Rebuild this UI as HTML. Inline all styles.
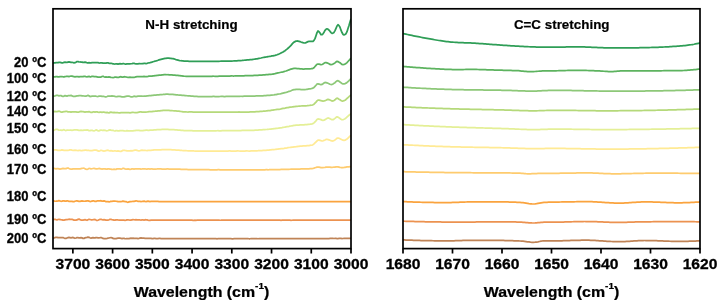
<!DOCTYPE html>
<html lang="en"><head><meta charset="utf-8"><title>FTIR spectra</title>
<style>
html,body{margin:0;padding:0;background:#fff;}
body{width:723px;height:307px;overflow:hidden;}
svg{display:block;}
text{font-family:"Liberation Sans",sans-serif;font-weight:bold;fill:#000;}
.tk{font-size:14.65px;text-anchor:middle;stroke:#000;stroke-width:0.3px;}
.yl{font-size:14.7px;text-anchor:end;stroke:#111;stroke-width:0.35px;}
.ti{font-size:13.4px;text-anchor:middle;stroke:#000;stroke-width:0.2px;}
.xl{font-size:15.2px;text-anchor:middle;stroke:#000;stroke-width:0.25px;}
.ax{fill:none;stroke:#000;stroke-width:1.7;}
.c{fill:none;stroke-width:1.75;stroke-linejoin:round;stroke-linecap:butt;}
</style></head><body>
<svg width="723" height="307" viewBox="0 0 723 307">
<rect x="0" y="0" width="723" height="307" fill="#fff"/>

<clipPath id="cl"><rect x="53.0" y="8.8" width="298.0" height="239.79999999999998"/></clipPath>
<clipPath id="cr"><rect x="403.0" y="8.8" width="297.0" height="239.79999999999998"/></clipPath>
<g clip-path="url(#cl)">
<path class="c" stroke="#bf8356" d="M53.0 238.18 L54.0 238.04 L55.0 237.57 L56.0 237.26 L57.0 237.40 L58.0 237.62 L59.0 237.62 L60.0 237.60 L61.0 237.63 L62.0 237.51 L63.0 237.53 L64.0 237.96 L65.0 238.33 L66.0 238.34 L67.0 238.00 L68.0 237.68 L69.0 237.48 L70.0 237.54 L71.0 237.78 L72.0 237.58 L73.0 237.44 L74.0 237.88 L75.0 238.26 L76.0 238.02 L77.0 237.61 L78.0 237.70 L79.0 237.98 L80.0 237.88 L81.0 237.72 L82.0 237.90 L83.0 238.35 L84.0 238.39 L85.0 237.85 L86.0 237.59 L87.0 237.44 L88.0 237.22 L89.0 237.38 L90.0 237.80 L91.0 238.16 L92.0 237.95 L93.0 237.72 L94.0 237.97 L95.0 237.84 L96.0 237.54 L97.0 237.65 L98.0 237.77 L99.0 237.82 L100.0 237.73 L101.0 237.54 L102.0 237.90 L103.0 238.44 L104.0 238.59 L105.0 238.64 L106.0 238.72 L107.0 238.51 L108.0 238.17 L109.0 238.01 L110.0 237.76 L111.0 237.58 L112.0 237.78 L113.0 238.38 L114.0 238.63 L115.0 238.54 L116.0 238.54 L117.0 238.29 L118.0 238.20 L119.0 238.17 L120.0 238.06 L121.0 238.46 L122.0 238.65 L123.0 238.36 L124.0 238.35 L125.0 238.56 L126.0 238.74 L127.0 238.68 L128.0 238.58 L129.0 238.55 L130.0 238.29 L131.0 238.20 L132.0 238.33 L133.0 238.23 L134.0 238.31 L135.0 238.40 L136.0 238.27 L137.0 238.41 L138.0 238.57 L139.0 238.39 L140.0 238.03 L141.0 237.83 L142.0 238.02 L143.0 238.22 L144.0 238.24 L145.0 238.29 L146.0 238.37 L147.0 238.38 L148.0 238.42 L149.0 238.45 L150.0 238.38 L151.0 238.48 L152.0 238.64 L153.0 238.55 L154.0 238.41 L155.0 238.44 L156.0 238.54 L157.0 238.56 L158.0 238.51 L159.0 238.46 L160.0 238.48 L161.0 238.52 L162.0 238.52 L163.0 238.50 L164.0 238.51 L165.0 238.53 L166.0 238.54 L167.0 238.54 L168.0 238.57 L169.0 238.59 L170.0 238.58 L171.0 238.57 L172.0 238.59 L173.0 238.59 L174.0 238.58 L175.0 238.56 L176.0 238.55 L177.0 238.60 L178.0 238.63 L179.0 238.63 L180.0 238.63 L181.0 238.61 L182.0 238.61 L183.0 238.66 L184.0 238.72 L185.0 238.70 L186.0 238.67 L187.0 238.67 L188.0 238.66 L189.0 238.67 L190.0 238.69 L191.0 238.66 L192.0 238.62 L193.0 238.64 L194.0 238.68 L195.0 238.72 L196.0 238.72 L197.0 238.71 L198.0 238.72 L199.0 238.72 L200.0 238.71 L201.0 238.73 L202.0 238.71 L203.0 238.70 L204.0 238.70 L205.0 238.68 L206.0 238.68 L207.0 238.71 L208.0 238.70 L209.0 238.68 L210.0 238.69 L211.0 238.71 L212.0 238.72 L213.0 238.69 L214.0 238.69 L215.0 238.67 L216.0 238.70 L217.0 238.76 L218.0 238.71 L219.0 238.68 L220.0 238.70 L221.0 238.69 L222.0 238.71 L223.0 238.72 L224.0 238.69 L225.0 238.67 L226.0 238.67 L227.0 238.66 L228.0 238.63 L229.0 238.64 L230.0 238.69 L231.0 238.73 L232.0 238.76 L233.0 238.77 L234.0 238.73 L235.0 238.69 L236.0 238.66 L237.0 238.62 L238.0 238.62 L239.0 238.66 L240.0 238.70 L241.0 238.71 L242.0 238.68 L243.0 238.65 L244.0 238.64 L245.0 238.67 L246.0 238.70 L247.0 238.70 L248.0 238.70 L249.0 238.75 L250.0 238.75 L251.0 238.70 L252.0 238.67 L253.0 238.67 L254.0 238.69 L255.0 238.69 L256.0 238.71 L257.0 238.73 L258.0 238.75 L259.0 238.73 L260.0 238.70 L261.0 238.68 L262.0 238.67 L263.0 238.68 L264.0 238.72 L265.0 238.72 L266.0 238.72 L267.0 238.70 L268.0 238.69 L269.0 238.71 L270.0 238.69 L271.0 238.68 L272.0 238.66 L273.0 238.65 L274.0 238.64 L275.0 238.67 L276.0 238.70 L277.0 238.70 L278.0 238.67 L279.0 238.60 L280.0 238.63 L281.0 238.67 L282.0 238.67 L283.0 238.69 L284.0 238.68 L285.0 238.65 L286.0 238.69 L287.0 238.73 L288.0 238.69 L289.0 238.64 L290.0 238.63 L291.0 238.61 L292.0 238.59 L293.0 238.64 L294.0 238.71 L295.0 238.70 L296.0 238.67 L297.0 238.69 L298.0 238.70 L299.0 238.69 L300.0 238.70 L301.0 238.67 L302.0 238.65 L303.0 238.62 L304.0 238.55 L305.0 238.55 L306.0 238.58 L307.0 238.57 L308.0 238.56 L309.0 238.56 L310.0 238.60 L311.0 238.66 L312.0 238.63 L313.0 238.60 L314.0 238.60 L315.0 238.59 L316.0 238.59 L317.0 238.61 L318.0 238.59 L319.0 238.55 L320.0 238.55 L321.0 238.54 L322.0 238.53 L323.0 238.54 L324.0 238.55 L325.0 238.57 L326.0 238.57 L327.0 238.55 L328.0 238.54 L329.0 238.51 L330.0 238.47 L331.0 238.47 L332.0 238.49 L333.0 238.49 L334.0 238.50 L335.0 238.49 L336.0 238.49 L337.0 238.55 L338.0 238.56 L339.0 238.49 L340.0 238.46 L341.0 238.48 L342.0 238.52 L343.0 238.50 L344.0 238.42 L345.0 238.38 L346.0 238.37 L347.0 238.35 L348.0 238.36 L349.0 238.38 L350.0 238.40 L351.0 238.43"/>
<path class="c" stroke="#ec9250" d="M53.0 219.79 L54.0 219.44 L55.0 219.26 L56.0 219.61 L57.0 219.88 L58.0 219.51 L59.0 219.26 L60.0 219.59 L61.0 219.74 L62.0 219.82 L63.0 220.08 L64.0 220.06 L65.0 219.79 L66.0 219.60 L67.0 219.63 L68.0 219.45 L69.0 219.24 L70.0 219.36 L71.0 219.38 L72.0 219.39 L73.0 219.68 L74.0 220.14 L75.0 220.22 L76.0 220.16 L77.0 219.97 L78.0 219.33 L79.0 219.07 L80.0 219.58 L81.0 220.01 L82.0 220.05 L83.0 220.15 L84.0 219.98 L85.0 219.63 L86.0 219.97 L87.0 220.29 L88.0 219.71 L89.0 219.27 L90.0 219.51 L91.0 219.78 L92.0 219.81 L93.0 219.72 L94.0 219.53 L95.0 219.46 L96.0 220.01 L97.0 220.53 L98.0 220.21 L99.0 219.73 L100.0 219.44 L101.0 219.26 L102.0 219.61 L103.0 219.81 L104.0 219.71 L105.0 219.90 L106.0 220.11 L107.0 220.18 L108.0 220.10 L109.0 219.77 L110.0 219.36 L111.0 219.37 L112.0 219.73 L113.0 219.96 L114.0 220.17 L115.0 220.21 L116.0 219.90 L117.0 219.83 L118.0 219.97 L119.0 220.01 L120.0 220.00 L121.0 220.07 L122.0 220.22 L123.0 220.22 L124.0 220.22 L125.0 220.30 L126.0 220.18 L127.0 219.92 L128.0 219.92 L129.0 220.00 L130.0 220.15 L131.0 220.17 L132.0 219.79 L133.0 219.57 L134.0 219.75 L135.0 219.82 L136.0 219.74 L137.0 219.80 L138.0 219.76 L139.0 219.75 L140.0 219.94 L141.0 220.04 L142.0 219.97 L143.0 219.96 L144.0 220.02 L145.0 219.88 L146.0 219.74 L147.0 219.90 L148.0 220.13 L149.0 220.30 L150.0 220.36 L151.0 220.24 L152.0 220.10 L153.0 220.04 L154.0 220.11 L155.0 220.20 L156.0 220.18 L157.0 220.11 L158.0 220.13 L159.0 220.19 L160.0 220.20 L161.0 220.16 L162.0 220.11 L163.0 220.11 L164.0 220.11 L165.0 220.13 L166.0 220.18 L167.0 220.20 L168.0 220.21 L169.0 220.19 L170.0 220.17 L171.0 220.16 L172.0 220.16 L173.0 220.18 L174.0 220.20 L175.0 220.16 L176.0 220.11 L177.0 220.13 L178.0 220.13 L179.0 220.11 L180.0 220.15 L181.0 220.22 L182.0 220.24 L183.0 220.21 L184.0 220.23 L185.0 220.22 L186.0 220.17 L187.0 220.17 L188.0 220.19 L189.0 220.18 L190.0 220.15 L191.0 220.18 L192.0 220.24 L193.0 220.28 L194.0 220.26 L195.0 220.24 L196.0 220.26 L197.0 220.23 L198.0 220.18 L199.0 220.20 L200.0 220.21 L201.0 220.21 L202.0 220.22 L203.0 220.24 L204.0 220.22 L205.0 220.21 L206.0 220.23 L207.0 220.22 L208.0 220.21 L209.0 220.22 L210.0 220.20 L211.0 220.17 L212.0 220.15 L213.0 220.14 L214.0 220.19 L215.0 220.23 L216.0 220.20 L217.0 220.17 L218.0 220.16 L219.0 220.19 L220.0 220.25 L221.0 220.24 L222.0 220.20 L223.0 220.18 L224.0 220.16 L225.0 220.15 L226.0 220.15 L227.0 220.17 L228.0 220.20 L229.0 220.23 L230.0 220.22 L231.0 220.18 L232.0 220.16 L233.0 220.16 L234.0 220.18 L235.0 220.22 L236.0 220.24 L237.0 220.22 L238.0 220.17 L239.0 220.15 L240.0 220.22 L241.0 220.23 L242.0 220.17 L243.0 220.20 L244.0 220.22 L245.0 220.21 L246.0 220.23 L247.0 220.20 L248.0 220.18 L249.0 220.22 L250.0 220.22 L251.0 220.19 L252.0 220.18 L253.0 220.18 L254.0 220.21 L255.0 220.20 L256.0 220.19 L257.0 220.19 L258.0 220.21 L259.0 220.21 L260.0 220.19 L261.0 220.20 L262.0 220.19 L263.0 220.17 L264.0 220.16 L265.0 220.15 L266.0 220.17 L267.0 220.20 L268.0 220.22 L269.0 220.23 L270.0 220.20 L271.0 220.14 L272.0 220.11 L273.0 220.15 L274.0 220.19 L275.0 220.18 L276.0 220.18 L277.0 220.18 L278.0 220.13 L279.0 220.13 L280.0 220.20 L281.0 220.26 L282.0 220.21 L283.0 220.17 L284.0 220.20 L285.0 220.22 L286.0 220.21 L287.0 220.17 L288.0 220.15 L289.0 220.18 L290.0 220.22 L291.0 220.26 L292.0 220.25 L293.0 220.18 L294.0 220.15 L295.0 220.16 L296.0 220.17 L297.0 220.19 L298.0 220.20 L299.0 220.21 L300.0 220.21 L301.0 220.17 L302.0 220.11 L303.0 220.09 L304.0 220.10 L305.0 220.09 L306.0 220.11 L307.0 220.16 L308.0 220.17 L309.0 220.14 L310.0 220.11 L311.0 220.09 L312.0 220.14 L313.0 220.17 L314.0 220.12 L315.0 220.14 L316.0 220.18 L317.0 220.16 L318.0 220.16 L319.0 220.15 L320.0 220.14 L321.0 220.17 L322.0 220.18 L323.0 220.12 L324.0 220.11 L325.0 220.15 L326.0 220.19 L327.0 220.20 L328.0 220.17 L329.0 220.11 L330.0 220.10 L331.0 220.13 L332.0 220.13 L333.0 220.11 L334.0 220.12 L335.0 220.15 L336.0 220.15 L337.0 220.12 L338.0 220.11 L339.0 220.09 L340.0 220.09 L341.0 220.13 L342.0 220.21 L343.0 220.24 L344.0 220.18 L345.0 220.14 L346.0 220.13 L347.0 220.09 L348.0 220.09 L349.0 220.10 L350.0 220.15 L351.0 220.17"/>
<path class="c" stroke="#faa33e" d="M53.0 200.92 L54.0 200.97 L55.0 201.25 L56.0 201.20 L57.0 201.06 L58.0 200.88 L59.0 200.65 L60.0 200.97 L61.0 201.29 L62.0 201.18 L63.0 200.93 L64.0 200.84 L65.0 201.05 L66.0 201.12 L67.0 200.96 L68.0 200.97 L69.0 201.30 L70.0 201.47 L71.0 201.38 L72.0 201.45 L73.0 201.66 L74.0 201.61 L75.0 201.27 L76.0 200.99 L77.0 200.94 L78.0 201.09 L79.0 201.33 L80.0 201.33 L81.0 201.12 L82.0 200.96 L83.0 201.03 L84.0 201.25 L85.0 201.22 L86.0 201.07 L87.0 200.96 L88.0 200.89 L89.0 201.14 L90.0 201.52 L91.0 201.42 L92.0 201.05 L93.0 200.84 L94.0 200.98 L95.0 201.44 L96.0 201.48 L97.0 200.93 L98.0 200.78 L99.0 200.97 L100.0 200.83 L101.0 200.73 L102.0 201.11 L103.0 201.21 L104.0 200.96 L105.0 201.20 L106.0 201.61 L107.0 201.54 L108.0 201.53 L109.0 201.82 L110.0 201.56 L111.0 201.25 L112.0 201.27 L113.0 201.22 L114.0 201.20 L115.0 201.18 L116.0 201.25 L117.0 201.38 L118.0 201.59 L119.0 201.67 L120.0 201.51 L121.0 201.51 L122.0 201.37 L123.0 201.07 L124.0 201.27 L125.0 201.55 L126.0 201.62 L127.0 202.02 L128.0 202.28 L129.0 201.87 L130.0 201.56 L131.0 201.64 L132.0 201.50 L133.0 201.30 L134.0 201.45 L135.0 201.21 L136.0 200.85 L137.0 201.01 L138.0 201.30 L139.0 201.42 L140.0 201.48 L141.0 201.53 L142.0 201.47 L143.0 201.28 L144.0 201.19 L145.0 201.43 L146.0 201.56 L147.0 201.36 L148.0 201.17 L149.0 201.32 L150.0 201.53 L151.0 201.46 L152.0 201.37 L153.0 201.42 L154.0 201.48 L155.0 201.45 L156.0 201.39 L157.0 201.40 L158.0 201.48 L159.0 201.54 L160.0 201.53 L161.0 201.54 L162.0 201.54 L163.0 201.53 L164.0 201.53 L165.0 201.55 L166.0 201.57 L167.0 201.56 L168.0 201.53 L169.0 201.54 L170.0 201.55 L171.0 201.56 L172.0 201.57 L173.0 201.55 L174.0 201.53 L175.0 201.57 L176.0 201.59 L177.0 201.57 L178.0 201.60 L179.0 201.60 L180.0 201.55 L181.0 201.54 L182.0 201.57 L183.0 201.56 L184.0 201.56 L185.0 201.58 L186.0 201.55 L187.0 201.53 L188.0 201.54 L189.0 201.58 L190.0 201.61 L191.0 201.62 L192.0 201.61 L193.0 201.59 L194.0 201.59 L195.0 201.61 L196.0 201.65 L197.0 201.61 L198.0 201.53 L199.0 201.56 L200.0 201.61 L201.0 201.58 L202.0 201.57 L203.0 201.59 L204.0 201.59 L205.0 201.64 L206.0 201.65 L207.0 201.62 L208.0 201.61 L209.0 201.58 L210.0 201.56 L211.0 201.60 L212.0 201.60 L213.0 201.60 L214.0 201.59 L215.0 201.56 L216.0 201.54 L217.0 201.57 L218.0 201.62 L219.0 201.64 L220.0 201.61 L221.0 201.57 L222.0 201.59 L223.0 201.59 L224.0 201.55 L225.0 201.56 L226.0 201.62 L227.0 201.63 L228.0 201.63 L229.0 201.62 L230.0 201.62 L231.0 201.61 L232.0 201.59 L233.0 201.57 L234.0 201.57 L235.0 201.62 L236.0 201.66 L237.0 201.64 L238.0 201.60 L239.0 201.59 L240.0 201.59 L241.0 201.60 L242.0 201.61 L243.0 201.62 L244.0 201.61 L245.0 201.60 L246.0 201.61 L247.0 201.61 L248.0 201.58 L249.0 201.59 L250.0 201.60 L251.0 201.59 L252.0 201.55 L253.0 201.56 L254.0 201.59 L255.0 201.57 L256.0 201.56 L257.0 201.57 L258.0 201.57 L259.0 201.61 L260.0 201.63 L261.0 201.62 L262.0 201.59 L263.0 201.54 L264.0 201.55 L265.0 201.61 L266.0 201.60 L267.0 201.60 L268.0 201.63 L269.0 201.60 L270.0 201.58 L271.0 201.59 L272.0 201.58 L273.0 201.56 L274.0 201.59 L275.0 201.64 L276.0 201.60 L277.0 201.50 L278.0 201.51 L279.0 201.58 L280.0 201.60 L281.0 201.60 L282.0 201.60 L283.0 201.58 L284.0 201.61 L285.0 201.63 L286.0 201.62 L287.0 201.63 L288.0 201.62 L289.0 201.60 L290.0 201.59 L291.0 201.62 L292.0 201.60 L293.0 201.59 L294.0 201.64 L295.0 201.68 L296.0 201.66 L297.0 201.63 L298.0 201.61 L299.0 201.58 L300.0 201.57 L301.0 201.59 L302.0 201.60 L303.0 201.61 L304.0 201.62 L305.0 201.57 L306.0 201.54 L307.0 201.59 L308.0 201.62 L309.0 201.61 L310.0 201.57 L311.0 201.56 L312.0 201.55 L313.0 201.57 L314.0 201.62 L315.0 201.65 L316.0 201.63 L317.0 201.63 L318.0 201.65 L319.0 201.58 L320.0 201.52 L321.0 201.56 L322.0 201.61 L323.0 201.61 L324.0 201.59 L325.0 201.63 L326.0 201.65 L327.0 201.59 L328.0 201.54 L329.0 201.54 L330.0 201.59 L331.0 201.64 L332.0 201.65 L333.0 201.66 L334.0 201.65 L335.0 201.64 L336.0 201.62 L337.0 201.57 L338.0 201.57 L339.0 201.58 L340.0 201.59 L341.0 201.62 L342.0 201.65 L343.0 201.62 L344.0 201.57 L345.0 201.59 L346.0 201.62 L347.0 201.60 L348.0 201.59 L349.0 201.59 L350.0 201.61 L351.0 201.63"/>
<path class="c" stroke="#fecb6e" d="M53.0 168.20 L54.0 168.28 L55.0 168.72 L56.0 168.83 L57.0 168.72 L58.0 168.71 L59.0 168.87 L60.0 169.10 L61.0 168.99 L62.0 168.61 L63.0 168.49 L64.0 168.64 L65.0 168.74 L66.0 168.65 L67.0 168.20 L68.0 168.00 L69.0 168.52 L70.0 168.92 L71.0 169.06 L72.0 169.19 L73.0 168.98 L74.0 168.76 L75.0 168.82 L76.0 168.89 L77.0 168.97 L78.0 168.92 L79.0 168.83 L80.0 168.78 L81.0 168.53 L82.0 168.33 L83.0 168.25 L84.0 168.21 L85.0 168.67 L86.0 169.25 L87.0 169.37 L88.0 168.97 L89.0 168.41 L90.0 168.50 L91.0 168.85 L92.0 168.75 L93.0 168.52 L94.0 168.31 L95.0 168.56 L96.0 168.97 L97.0 168.93 L98.0 168.72 L99.0 168.48 L100.0 168.60 L101.0 168.99 L102.0 169.02 L103.0 168.86 L104.0 168.75 L105.0 168.76 L106.0 169.13 L107.0 169.19 L108.0 168.84 L109.0 168.93 L110.0 169.07 L111.0 169.11 L112.0 169.50 L113.0 169.49 L114.0 169.16 L115.0 169.33 L116.0 169.31 L117.0 168.92 L118.0 168.94 L119.0 168.98 L120.0 168.99 L121.0 169.06 L122.0 168.79 L123.0 168.42 L124.0 168.48 L125.0 168.90 L126.0 169.14 L127.0 169.05 L128.0 168.96 L129.0 169.12 L130.0 169.32 L131.0 169.16 L132.0 168.88 L133.0 168.99 L134.0 169.14 L135.0 168.97 L136.0 168.88 L137.0 168.87 L138.0 168.90 L139.0 168.89 L140.0 168.85 L141.0 169.02 L142.0 168.95 L143.0 168.82 L144.0 168.85 L145.0 168.84 L146.0 169.01 L147.0 169.08 L148.0 168.96 L149.0 168.98 L150.0 169.04 L151.0 168.98 L152.0 168.99 L153.0 169.08 L154.0 169.10 L155.0 169.02 L156.0 169.02 L157.0 168.99 L158.0 168.91 L159.0 168.91 L160.0 168.91 L161.0 168.95 L162.0 169.03 L163.0 169.06 L164.0 169.04 L165.0 169.02 L166.0 169.01 L167.0 168.99 L168.0 168.98 L169.0 169.01 L170.0 169.05 L171.0 169.08 L172.0 169.07 L173.0 169.07 L174.0 169.09 L175.0 169.09 L176.0 169.11 L177.0 169.16 L178.0 169.18 L179.0 169.20 L180.0 169.24 L181.0 169.30 L182.0 169.32 L183.0 169.33 L184.0 169.36 L185.0 169.40 L186.0 169.44 L187.0 169.48 L188.0 169.53 L189.0 169.57 L190.0 169.54 L191.0 169.54 L192.0 169.63 L193.0 169.67 L194.0 169.63 L195.0 169.59 L196.0 169.60 L197.0 169.65 L198.0 169.69 L199.0 169.69 L200.0 169.66 L201.0 169.68 L202.0 169.73 L203.0 169.71 L204.0 169.70 L205.0 169.72 L206.0 169.72 L207.0 169.73 L208.0 169.74 L209.0 169.74 L210.0 169.76 L211.0 169.79 L212.0 169.78 L213.0 169.77 L214.0 169.78 L215.0 169.79 L216.0 169.79 L217.0 169.77 L218.0 169.72 L219.0 169.72 L220.0 169.78 L221.0 169.84 L222.0 169.83 L223.0 169.79 L224.0 169.82 L225.0 169.87 L226.0 169.87 L227.0 169.84 L228.0 169.80 L229.0 169.80 L230.0 169.89 L231.0 169.93 L232.0 169.89 L233.0 169.87 L234.0 169.87 L235.0 169.89 L236.0 169.88 L237.0 169.84 L238.0 169.82 L239.0 169.85 L240.0 169.91 L241.0 169.92 L242.0 169.89 L243.0 169.90 L244.0 169.89 L245.0 169.87 L246.0 169.84 L247.0 169.82 L248.0 169.86 L249.0 169.91 L250.0 169.88 L251.0 169.88 L252.0 169.89 L253.0 169.85 L254.0 169.86 L255.0 169.87 L256.0 169.88 L257.0 169.89 L258.0 169.86 L259.0 169.85 L260.0 169.86 L261.0 169.84 L262.0 169.79 L263.0 169.76 L264.0 169.76 L265.0 169.76 L266.0 169.73 L267.0 169.74 L268.0 169.78 L269.0 169.74 L270.0 169.67 L271.0 169.63 L272.0 169.63 L273.0 169.65 L274.0 169.63 L275.0 169.63 L276.0 169.63 L277.0 169.56 L278.0 169.50 L279.0 169.50 L280.0 169.50 L281.0 169.49 L282.0 169.47 L283.0 169.47 L284.0 169.44 L285.0 169.36 L286.0 169.31 L287.0 169.33 L288.0 169.30 L289.0 169.27 L290.0 169.25 L291.0 169.21 L292.0 169.19 L293.0 169.19 L294.0 169.17 L295.0 169.14 L296.0 169.09 L297.0 169.05 L298.0 169.02 L299.0 169.02 L300.0 169.01 L301.0 168.97 L302.0 168.92 L303.0 168.92 L304.0 168.94 L305.0 168.93 L306.0 168.87 L307.0 168.80 L308.0 168.78 L309.0 168.77 L310.0 168.67 L311.0 168.58 L312.0 168.51 L313.0 168.43 L314.0 168.17 L315.0 167.78 L316.0 167.47 L317.0 167.18 L318.0 167.08 L319.0 167.18 L320.0 167.35 L321.0 167.53 L322.0 167.59 L323.0 167.56 L324.0 167.50 L325.0 167.39 L326.0 167.23 L327.0 167.08 L328.0 167.00 L329.0 167.07 L330.0 167.23 L331.0 167.38 L332.0 167.37 L333.0 167.25 L334.0 167.15 L335.0 167.04 L336.0 166.88 L337.0 166.78 L338.0 166.86 L339.0 167.10 L340.0 167.34 L341.0 167.51 L342.0 167.58 L343.0 167.53 L344.0 167.43 L345.0 167.30 L346.0 167.13 L347.0 166.94 L348.0 166.84 L349.0 166.81 L350.0 166.74 L351.0 166.65"/>
<path class="c" stroke="#ffea94" d="M53.0 149.88 L54.0 149.86 L55.0 149.88 L56.0 149.93 L57.0 150.15 L58.0 150.42 L59.0 150.49 L60.0 150.41 L61.0 150.21 L62.0 149.97 L63.0 150.06 L64.0 150.31 L65.0 150.41 L66.0 150.45 L67.0 150.39 L68.0 150.33 L69.0 150.17 L70.0 149.92 L71.0 149.97 L72.0 150.22 L73.0 150.34 L74.0 150.27 L75.0 150.23 L76.0 150.30 L77.0 150.48 L78.0 150.54 L79.0 150.40 L80.0 150.38 L81.0 150.52 L82.0 150.55 L83.0 150.41 L84.0 150.32 L85.0 150.20 L86.0 150.16 L87.0 150.41 L88.0 150.46 L89.0 150.49 L90.0 150.65 L91.0 150.57 L92.0 150.61 L93.0 150.46 L94.0 150.13 L95.0 150.11 L96.0 150.13 L97.0 150.40 L98.0 150.91 L99.0 151.17 L100.0 150.79 L101.0 150.26 L102.0 150.50 L103.0 150.94 L104.0 151.05 L105.0 150.98 L106.0 150.61 L107.0 150.27 L108.0 150.23 L109.0 150.58 L110.0 150.84 L111.0 150.74 L112.0 150.87 L113.0 151.04 L114.0 150.96 L115.0 150.80 L116.0 151.01 L117.0 151.15 L118.0 150.85 L119.0 151.02 L120.0 151.33 L121.0 151.32 L122.0 150.93 L123.0 150.29 L124.0 150.28 L125.0 150.48 L126.0 150.61 L127.0 150.84 L128.0 150.86 L129.0 150.82 L130.0 150.78 L131.0 150.71 L132.0 150.84 L133.0 150.69 L134.0 150.28 L135.0 150.14 L136.0 150.20 L137.0 150.42 L138.0 150.75 L139.0 150.95 L140.0 150.76 L141.0 150.31 L142.0 150.15 L143.0 150.26 L144.0 150.30 L145.0 150.33 L146.0 150.50 L147.0 150.56 L148.0 150.35 L149.0 150.37 L150.0 150.46 L151.0 150.26 L152.0 150.18 L153.0 150.16 L154.0 149.94 L155.0 149.83 L156.0 149.88 L157.0 149.94 L158.0 149.93 L159.0 149.89 L160.0 149.86 L161.0 149.77 L162.0 149.69 L163.0 149.67 L164.0 149.65 L165.0 149.61 L166.0 149.61 L167.0 149.66 L168.0 149.70 L169.0 149.69 L170.0 149.67 L171.0 149.71 L172.0 149.79 L173.0 149.86 L174.0 149.92 L175.0 149.99 L176.0 150.05 L177.0 150.10 L178.0 150.17 L179.0 150.24 L180.0 150.30 L181.0 150.39 L182.0 150.49 L183.0 150.54 L184.0 150.58 L185.0 150.65 L186.0 150.71 L187.0 150.75 L188.0 150.79 L189.0 150.85 L190.0 150.87 L191.0 150.85 L192.0 150.86 L193.0 150.91 L194.0 150.98 L195.0 151.01 L196.0 151.03 L197.0 151.08 L198.0 151.15 L199.0 151.18 L200.0 151.16 L201.0 151.16 L202.0 151.16 L203.0 151.14 L204.0 151.09 L205.0 151.07 L206.0 151.11 L207.0 151.12 L208.0 151.07 L209.0 151.08 L210.0 151.11 L211.0 151.10 L212.0 151.06 L213.0 151.08 L214.0 151.14 L215.0 151.16 L216.0 151.13 L217.0 151.12 L218.0 151.11 L219.0 151.10 L220.0 151.08 L221.0 151.06 L222.0 151.07 L223.0 151.09 L224.0 151.12 L225.0 151.11 L226.0 151.09 L227.0 151.08 L228.0 151.04 L229.0 150.97 L230.0 150.98 L231.0 151.01 L232.0 151.01 L233.0 151.05 L234.0 151.06 L235.0 151.03 L236.0 151.02 L237.0 150.99 L238.0 150.99 L239.0 151.00 L240.0 151.00 L241.0 151.03 L242.0 151.04 L243.0 151.05 L244.0 151.04 L245.0 151.01 L246.0 150.99 L247.0 150.98 L248.0 151.00 L249.0 151.02 L250.0 151.03 L251.0 150.99 L252.0 150.97 L253.0 150.97 L254.0 150.94 L255.0 150.88 L256.0 150.81 L257.0 150.76 L258.0 150.73 L259.0 150.67 L260.0 150.59 L261.0 150.55 L262.0 150.51 L263.0 150.43 L264.0 150.36 L265.0 150.32 L266.0 150.27 L267.0 150.20 L268.0 150.11 L269.0 150.01 L270.0 149.93 L271.0 149.85 L272.0 149.72 L273.0 149.59 L274.0 149.52 L275.0 149.46 L276.0 149.35 L277.0 149.22 L278.0 149.08 L279.0 148.93 L280.0 148.77 L281.0 148.64 L282.0 148.58 L283.0 148.52 L284.0 148.36 L285.0 148.15 L286.0 148.01 L287.0 147.87 L288.0 147.66 L289.0 147.50 L290.0 147.41 L291.0 147.27 L292.0 147.14 L293.0 147.05 L294.0 146.92 L295.0 146.80 L296.0 146.68 L297.0 146.51 L298.0 146.38 L299.0 146.30 L300.0 146.22 L301.0 146.15 L302.0 146.06 L303.0 145.97 L304.0 145.91 L305.0 145.85 L306.0 145.78 L307.0 145.70 L308.0 145.62 L309.0 145.51 L310.0 145.38 L311.0 145.24 L312.0 145.07 L313.0 144.71 L314.0 143.83 L315.0 142.84 L316.0 141.99 L317.0 140.95 L318.0 140.16 L319.0 140.08 L320.0 140.33 L321.0 140.69 L322.0 140.99 L323.0 140.79 L324.0 140.39 L325.0 139.99 L326.0 139.42 L327.0 139.27 L328.0 139.55 L329.0 139.89 L330.0 140.24 L331.0 140.70 L332.0 141.01 L333.0 140.97 L334.0 140.53 L335.0 139.89 L336.0 139.13 L337.0 138.29 L338.0 138.00 L339.0 138.25 L340.0 138.74 L341.0 139.22 L342.0 139.69 L343.0 140.18 L344.0 140.40 L345.0 140.13 L346.0 139.61 L347.0 139.00 L348.0 138.07 L349.0 137.14 L350.0 136.21 L351.0 135.26"/>
<path class="c" stroke="#e4ef96" d="M53.0 130.40 L54.0 130.28 L55.0 129.78 L56.0 129.41 L57.0 129.35 L58.0 129.67 L59.0 130.25 L60.0 130.23 L61.0 130.07 L62.0 130.33 L63.0 129.96 L64.0 129.64 L65.0 130.24 L66.0 130.54 L67.0 130.16 L68.0 130.05 L69.0 130.25 L70.0 130.16 L71.0 130.13 L72.0 130.30 L73.0 130.23 L74.0 129.97 L75.0 129.96 L76.0 129.97 L77.0 129.79 L78.0 130.05 L79.0 130.38 L80.0 130.33 L81.0 130.23 L82.0 130.34 L83.0 130.34 L84.0 130.10 L85.0 130.19 L86.0 130.22 L87.0 129.91 L88.0 130.10 L89.0 130.69 L90.0 130.66 L91.0 130.35 L92.0 130.46 L93.0 130.69 L94.0 130.87 L95.0 130.51 L96.0 129.88 L97.0 130.18 L98.0 130.87 L99.0 130.88 L100.0 130.30 L101.0 130.07 L102.0 130.26 L103.0 130.31 L104.0 130.23 L105.0 130.27 L106.0 130.59 L107.0 130.77 L108.0 130.55 L109.0 130.10 L110.0 129.84 L111.0 130.09 L112.0 130.31 L113.0 130.28 L114.0 130.74 L115.0 131.03 L116.0 130.65 L117.0 130.62 L118.0 130.96 L119.0 130.91 L120.0 130.60 L121.0 130.57 L122.0 130.65 L123.0 130.70 L124.0 130.84 L125.0 131.00 L126.0 130.85 L127.0 130.60 L128.0 130.87 L129.0 130.99 L130.0 130.80 L131.0 130.86 L132.0 130.95 L133.0 130.80 L134.0 130.67 L135.0 130.61 L136.0 130.41 L137.0 130.25 L138.0 130.27 L139.0 130.39 L140.0 130.57 L141.0 130.66 L142.0 130.67 L143.0 130.66 L144.0 130.47 L145.0 130.27 L146.0 130.19 L147.0 130.18 L148.0 130.30 L149.0 130.31 L150.0 130.17 L151.0 130.14 L152.0 130.14 L153.0 130.06 L154.0 129.97 L155.0 129.89 L156.0 129.82 L157.0 129.73 L158.0 129.64 L159.0 129.65 L160.0 129.61 L161.0 129.53 L162.0 129.49 L163.0 129.46 L164.0 129.44 L165.0 129.43 L166.0 129.43 L167.0 129.41 L168.0 129.43 L169.0 129.52 L170.0 129.56 L171.0 129.57 L172.0 129.64 L173.0 129.70 L174.0 129.72 L175.0 129.78 L176.0 129.88 L177.0 129.96 L178.0 130.07 L179.0 130.19 L180.0 130.23 L181.0 130.29 L182.0 130.37 L183.0 130.41 L184.0 130.51 L185.0 130.63 L186.0 130.63 L187.0 130.61 L188.0 130.62 L189.0 130.66 L190.0 130.66 L191.0 130.63 L192.0 130.68 L193.0 130.77 L194.0 130.80 L195.0 130.78 L196.0 130.77 L197.0 130.78 L198.0 130.78 L199.0 130.77 L200.0 130.83 L201.0 130.86 L202.0 130.83 L203.0 130.82 L204.0 130.80 L205.0 130.75 L206.0 130.75 L207.0 130.77 L208.0 130.78 L209.0 130.78 L210.0 130.75 L211.0 130.76 L212.0 130.79 L213.0 130.78 L214.0 130.75 L215.0 130.78 L216.0 130.81 L217.0 130.75 L218.0 130.71 L219.0 130.78 L220.0 130.83 L221.0 130.78 L222.0 130.68 L223.0 130.66 L224.0 130.72 L225.0 130.72 L226.0 130.70 L227.0 130.71 L228.0 130.72 L229.0 130.69 L230.0 130.65 L231.0 130.63 L232.0 130.61 L233.0 130.61 L234.0 130.59 L235.0 130.53 L236.0 130.51 L237.0 130.51 L238.0 130.51 L239.0 130.56 L240.0 130.59 L241.0 130.54 L242.0 130.46 L243.0 130.44 L244.0 130.48 L245.0 130.48 L246.0 130.44 L247.0 130.38 L248.0 130.39 L249.0 130.44 L250.0 130.41 L251.0 130.35 L252.0 130.34 L253.0 130.34 L254.0 130.29 L255.0 130.23 L256.0 130.18 L257.0 130.15 L258.0 130.09 L259.0 129.99 L260.0 129.93 L261.0 129.87 L262.0 129.78 L263.0 129.72 L264.0 129.65 L265.0 129.56 L266.0 129.50 L267.0 129.44 L268.0 129.34 L269.0 129.25 L270.0 129.17 L271.0 129.07 L272.0 128.95 L273.0 128.83 L274.0 128.72 L275.0 128.61 L276.0 128.44 L277.0 128.30 L278.0 128.20 L279.0 128.05 L280.0 127.91 L281.0 127.79 L282.0 127.64 L283.0 127.45 L284.0 127.25 L285.0 127.08 L286.0 126.90 L287.0 126.71 L288.0 126.55 L289.0 126.40 L290.0 126.20 L291.0 126.00 L292.0 125.82 L293.0 125.64 L294.0 125.46 L295.0 125.32 L296.0 125.23 L297.0 125.18 L298.0 125.12 L299.0 125.05 L300.0 124.99 L301.0 124.96 L302.0 124.99 L303.0 124.96 L304.0 124.84 L305.0 124.74 L306.0 124.67 L307.0 124.59 L308.0 124.45 L309.0 124.33 L310.0 124.23 L311.0 124.07 L312.0 123.86 L313.0 123.60 L314.0 122.85 L315.0 121.84 L316.0 120.81 L317.0 119.53 L318.0 118.89 L319.0 119.03 L320.0 119.31 L321.0 119.62 L322.0 120.09 L323.0 120.34 L324.0 120.13 L325.0 119.64 L326.0 119.08 L327.0 118.33 L328.0 117.96 L329.0 118.23 L330.0 118.67 L331.0 119.20 L332.0 119.73 L333.0 119.66 L334.0 119.11 L335.0 118.40 L336.0 117.45 L337.0 116.82 L338.0 117.14 L339.0 117.83 L340.0 118.48 L341.0 119.31 L342.0 119.76 L343.0 119.60 L344.0 119.24 L345.0 118.77 L346.0 117.99 L347.0 117.00 L348.0 116.10 L349.0 115.28 L350.0 114.46 L351.0 113.60"/>
<path class="c" stroke="#b5d97a" d="M53.0 111.66 L54.0 111.57 L55.0 111.47 L56.0 111.55 L57.0 111.53 L58.0 111.29 L59.0 111.16 L60.0 111.51 L61.0 112.07 L62.0 112.14 L63.0 111.85 L64.0 111.71 L65.0 111.57 L66.0 111.27 L67.0 111.45 L68.0 111.90 L69.0 111.83 L70.0 111.97 L71.0 112.21 L72.0 111.94 L73.0 111.83 L74.0 111.90 L75.0 111.88 L76.0 111.90 L77.0 112.02 L78.0 112.23 L79.0 112.07 L80.0 111.58 L81.0 111.44 L82.0 111.60 L83.0 111.69 L84.0 111.87 L85.0 112.07 L86.0 111.92 L87.0 111.87 L88.0 111.80 L89.0 111.66 L90.0 112.02 L91.0 112.45 L92.0 112.39 L93.0 111.99 L94.0 111.92 L95.0 112.09 L96.0 111.91 L97.0 111.88 L98.0 112.18 L99.0 112.27 L100.0 112.12 L101.0 112.11 L102.0 112.28 L103.0 112.18 L104.0 112.13 L105.0 112.49 L106.0 112.52 L107.0 112.32 L108.0 112.62 L109.0 112.86 L110.0 112.42 L111.0 112.11 L112.0 112.46 L113.0 112.58 L114.0 112.47 L115.0 112.66 L116.0 112.55 L117.0 112.51 L118.0 112.71 L119.0 112.78 L120.0 112.78 L121.0 112.66 L122.0 112.57 L123.0 112.57 L124.0 112.62 L125.0 112.72 L126.0 112.65 L127.0 112.60 L128.0 112.67 L129.0 112.71 L130.0 112.80 L131.0 112.72 L132.0 112.44 L133.0 112.31 L134.0 112.50 L135.0 112.68 L136.0 112.62 L137.0 112.53 L138.0 112.36 L139.0 112.18 L140.0 111.98 L141.0 111.91 L142.0 112.09 L143.0 112.16 L144.0 112.13 L145.0 112.08 L146.0 112.03 L147.0 112.00 L148.0 111.85 L149.0 111.74 L150.0 111.65 L151.0 111.64 L152.0 111.57 L153.0 111.37 L154.0 111.28 L155.0 111.21 L156.0 111.11 L157.0 111.02 L158.0 110.95 L159.0 110.86 L160.0 110.77 L161.0 110.69 L162.0 110.60 L163.0 110.49 L164.0 110.42 L165.0 110.41 L166.0 110.42 L167.0 110.44 L168.0 110.43 L169.0 110.46 L170.0 110.55 L171.0 110.58 L172.0 110.64 L173.0 110.75 L174.0 110.82 L175.0 110.90 L176.0 110.97 L177.0 111.07 L178.0 111.16 L179.0 111.24 L180.0 111.37 L181.0 111.50 L182.0 111.63 L183.0 111.76 L184.0 111.85 L185.0 111.88 L186.0 111.92 L187.0 112.00 L188.0 112.01 L189.0 111.98 L190.0 111.94 L191.0 111.94 L192.0 111.99 L193.0 112.04 L194.0 112.11 L195.0 112.14 L196.0 112.08 L197.0 112.07 L198.0 112.11 L199.0 112.13 L200.0 112.13 L201.0 112.09 L202.0 112.10 L203.0 112.15 L204.0 112.12 L205.0 112.07 L206.0 112.07 L207.0 112.07 L208.0 112.07 L209.0 112.10 L210.0 112.11 L211.0 112.08 L212.0 112.10 L213.0 112.14 L214.0 112.11 L215.0 112.05 L216.0 112.01 L217.0 112.05 L218.0 112.12 L219.0 112.13 L220.0 112.06 L221.0 112.02 L222.0 112.07 L223.0 112.11 L224.0 112.11 L225.0 112.09 L226.0 112.06 L227.0 112.03 L228.0 112.03 L229.0 112.06 L230.0 112.08 L231.0 112.12 L232.0 112.12 L233.0 112.10 L234.0 112.11 L235.0 112.09 L236.0 112.08 L237.0 112.08 L238.0 112.01 L239.0 111.99 L240.0 112.03 L241.0 112.07 L242.0 112.11 L243.0 112.09 L244.0 112.05 L245.0 112.04 L246.0 112.05 L247.0 112.06 L248.0 112.04 L249.0 112.02 L250.0 111.99 L251.0 111.97 L252.0 111.92 L253.0 111.87 L254.0 111.82 L255.0 111.77 L256.0 111.71 L257.0 111.64 L258.0 111.60 L259.0 111.55 L260.0 111.46 L261.0 111.37 L262.0 111.31 L263.0 111.24 L264.0 111.14 L265.0 111.05 L266.0 110.96 L267.0 110.83 L268.0 110.70 L269.0 110.60 L270.0 110.52 L271.0 110.37 L272.0 110.23 L273.0 110.12 L274.0 109.94 L275.0 109.74 L276.0 109.58 L277.0 109.49 L278.0 109.41 L279.0 109.26 L280.0 109.10 L281.0 108.91 L282.0 108.66 L283.0 108.43 L284.0 108.27 L285.0 108.10 L286.0 107.89 L287.0 107.71 L288.0 107.53 L289.0 107.33 L290.0 107.15 L291.0 107.04 L292.0 106.93 L293.0 106.77 L294.0 106.63 L295.0 106.53 L296.0 106.45 L297.0 106.36 L298.0 106.25 L299.0 106.14 L300.0 106.07 L301.0 106.00 L302.0 105.92 L303.0 105.85 L304.0 105.82 L305.0 105.80 L306.0 105.77 L307.0 105.71 L308.0 105.62 L309.0 105.50 L310.0 105.36 L311.0 105.24 L312.0 105.06 L313.0 104.78 L314.0 104.19 L315.0 103.12 L316.0 102.07 L317.0 100.92 L318.0 100.10 L319.0 100.09 L320.0 100.32 L321.0 100.62 L322.0 100.97 L323.0 101.12 L324.0 100.93 L325.0 100.58 L326.0 100.20 L327.0 99.64 L328.0 99.37 L329.0 99.62 L330.0 100.01 L331.0 100.50 L332.0 101.03 L333.0 100.97 L334.0 100.45 L335.0 99.79 L336.0 98.85 L337.0 98.18 L338.0 98.49 L339.0 99.17 L340.0 99.80 L341.0 100.58 L342.0 101.08 L343.0 101.02 L344.0 100.69 L345.0 100.22 L346.0 99.47 L347.0 98.47 L348.0 97.60 L349.0 96.71 L350.0 95.76 L351.0 94.79"/>
<path class="c" stroke="#8dc878" d="M53.0 95.95 L54.0 96.08 L55.0 95.80 L56.0 95.46 L57.0 95.30 L58.0 95.46 L59.0 95.86 L60.0 95.71 L61.0 95.59 L62.0 96.15 L63.0 96.49 L64.0 96.07 L65.0 95.58 L66.0 95.84 L67.0 96.09 L68.0 95.70 L69.0 95.56 L70.0 95.51 L71.0 95.43 L72.0 95.85 L73.0 96.28 L74.0 96.40 L75.0 96.40 L76.0 96.16 L77.0 95.95 L78.0 95.84 L79.0 95.67 L80.0 95.56 L81.0 95.69 L82.0 95.84 L83.0 95.90 L84.0 96.00 L85.0 96.15 L86.0 96.15 L87.0 95.77 L88.0 95.40 L89.0 95.83 L90.0 96.53 L91.0 96.46 L92.0 96.08 L93.0 96.01 L94.0 96.03 L95.0 96.04 L96.0 96.23 L97.0 96.50 L98.0 96.51 L99.0 96.21 L100.0 96.05 L101.0 96.10 L102.0 96.32 L103.0 96.41 L104.0 96.47 L105.0 96.78 L106.0 96.82 L107.0 96.53 L108.0 96.20 L109.0 96.08 L110.0 96.20 L111.0 96.08 L112.0 95.97 L113.0 96.09 L114.0 96.13 L115.0 96.46 L116.0 96.74 L117.0 96.56 L118.0 96.42 L119.0 96.41 L120.0 96.46 L121.0 96.65 L122.0 96.84 L123.0 96.96 L124.0 96.96 L125.0 96.65 L126.0 96.34 L127.0 96.19 L128.0 96.11 L129.0 96.19 L130.0 96.48 L131.0 96.79 L132.0 96.88 L133.0 96.61 L134.0 96.21 L135.0 96.32 L136.0 96.56 L137.0 96.40 L138.0 96.23 L139.0 96.23 L140.0 96.24 L141.0 96.21 L142.0 96.24 L143.0 96.25 L144.0 96.17 L145.0 96.07 L146.0 96.02 L147.0 95.92 L148.0 95.81 L149.0 95.74 L150.0 95.67 L151.0 95.56 L152.0 95.41 L153.0 95.28 L154.0 95.15 L155.0 95.06 L156.0 95.04 L157.0 94.96 L158.0 94.86 L159.0 94.77 L160.0 94.65 L161.0 94.56 L162.0 94.52 L163.0 94.46 L164.0 94.37 L165.0 94.30 L166.0 94.24 L167.0 94.19 L168.0 94.24 L169.0 94.30 L170.0 94.34 L171.0 94.38 L172.0 94.41 L173.0 94.47 L174.0 94.60 L175.0 94.70 L176.0 94.79 L177.0 94.89 L178.0 94.99 L179.0 95.06 L180.0 95.10 L181.0 95.19 L182.0 95.32 L183.0 95.43 L184.0 95.49 L185.0 95.53 L186.0 95.64 L187.0 95.75 L188.0 95.80 L189.0 95.87 L190.0 95.95 L191.0 96.01 L192.0 96.07 L193.0 96.14 L194.0 96.27 L195.0 96.40 L196.0 96.45 L197.0 96.49 L198.0 96.56 L199.0 96.56 L200.0 96.58 L201.0 96.64 L202.0 96.63 L203.0 96.62 L204.0 96.64 L205.0 96.62 L206.0 96.59 L207.0 96.57 L208.0 96.57 L209.0 96.59 L210.0 96.60 L211.0 96.56 L212.0 96.52 L213.0 96.47 L214.0 96.48 L215.0 96.53 L216.0 96.53 L217.0 96.52 L218.0 96.53 L219.0 96.52 L220.0 96.50 L221.0 96.46 L222.0 96.44 L223.0 96.49 L224.0 96.54 L225.0 96.52 L226.0 96.48 L227.0 96.46 L228.0 96.47 L229.0 96.49 L230.0 96.47 L231.0 96.41 L232.0 96.39 L233.0 96.37 L234.0 96.35 L235.0 96.34 L236.0 96.31 L237.0 96.28 L238.0 96.30 L239.0 96.29 L240.0 96.26 L241.0 96.25 L242.0 96.26 L243.0 96.26 L244.0 96.22 L245.0 96.21 L246.0 96.20 L247.0 96.14 L248.0 96.12 L249.0 96.13 L250.0 96.10 L251.0 96.04 L252.0 96.02 L253.0 96.06 L254.0 96.07 L255.0 96.01 L256.0 95.99 L257.0 95.99 L258.0 95.94 L259.0 95.88 L260.0 95.85 L261.0 95.86 L262.0 95.84 L263.0 95.77 L264.0 95.71 L265.0 95.66 L266.0 95.58 L267.0 95.49 L268.0 95.45 L269.0 95.41 L270.0 95.31 L271.0 95.21 L272.0 95.10 L273.0 95.00 L274.0 94.89 L275.0 94.73 L276.0 94.55 L277.0 94.35 L278.0 94.17 L279.0 94.00 L280.0 93.83 L281.0 93.63 L282.0 93.38 L283.0 93.13 L284.0 92.89 L285.0 92.66 L286.0 92.46 L287.0 92.17 L288.0 91.78 L289.0 91.41 L290.0 91.09 L291.0 90.71 L292.0 90.27 L293.0 89.92 L294.0 89.72 L295.0 89.58 L296.0 89.43 L297.0 89.33 L298.0 89.32 L299.0 89.40 L300.0 89.43 L301.0 89.51 L302.0 89.62 L303.0 89.64 L304.0 89.58 L305.0 89.52 L306.0 89.42 L307.0 89.28 L308.0 89.13 L309.0 88.97 L310.0 88.80 L311.0 88.63 L312.0 88.43 L313.0 88.13 L314.0 87.45 L315.0 86.32 L316.0 85.24 L317.0 84.07 L318.0 83.78 L319.0 84.04 L320.0 84.40 L321.0 84.71 L322.0 84.41 L323.0 83.77 L324.0 83.07 L325.0 82.45 L326.0 82.55 L327.0 82.87 L328.0 83.21 L329.0 83.67 L330.0 84.22 L331.0 84.53 L332.0 84.38 L333.0 83.92 L334.0 83.34 L335.0 82.66 L336.0 81.65 L337.0 80.79 L338.0 80.65 L339.0 81.25 L340.0 82.08 L341.0 82.72 L342.0 83.41 L343.0 83.92 L344.0 83.92 L345.0 83.59 L346.0 83.17 L347.0 82.48 L348.0 81.51 L349.0 80.58 L350.0 79.59 L351.0 78.54"/>
<path class="c" stroke="#5db35f" d="M53.0 76.66 L54.0 76.99 L55.0 76.93 L56.0 76.61 L57.0 76.61 L58.0 76.88 L59.0 76.90 L60.0 76.69 L61.0 76.64 L62.0 76.60 L63.0 76.76 L64.0 76.83 L65.0 76.56 L66.0 76.47 L67.0 76.33 L68.0 76.38 L69.0 76.54 L70.0 76.26 L71.0 76.08 L72.0 76.14 L73.0 76.36 L74.0 76.74 L75.0 76.84 L76.0 76.70 L77.0 76.61 L78.0 76.70 L79.0 76.93 L80.0 76.72 L81.0 76.51 L82.0 76.66 L83.0 76.68 L84.0 76.43 L85.0 76.35 L86.0 76.75 L87.0 76.90 L88.0 76.54 L89.0 76.40 L90.0 76.76 L91.0 76.80 L92.0 76.31 L93.0 76.27 L94.0 76.53 L95.0 76.52 L96.0 76.56 L97.0 76.79 L98.0 77.03 L99.0 77.17 L100.0 77.22 L101.0 77.06 L102.0 76.49 L103.0 76.23 L104.0 76.70 L105.0 77.07 L106.0 76.97 L107.0 77.04 L108.0 77.12 L109.0 76.90 L110.0 77.06 L111.0 77.37 L112.0 77.50 L113.0 77.56 L114.0 77.41 L115.0 77.22 L116.0 77.19 L117.0 77.34 L118.0 77.44 L119.0 77.28 L120.0 76.83 L121.0 76.71 L122.0 77.09 L123.0 77.14 L124.0 76.77 L125.0 76.72 L126.0 77.01 L127.0 77.22 L128.0 77.35 L129.0 77.35 L130.0 77.22 L131.0 77.28 L132.0 77.33 L133.0 77.32 L134.0 77.36 L135.0 77.13 L136.0 76.78 L137.0 76.61 L138.0 76.68 L139.0 76.71 L140.0 76.70 L141.0 76.69 L142.0 76.62 L143.0 76.52 L144.0 76.38 L145.0 76.51 L146.0 76.68 L147.0 76.59 L148.0 76.41 L149.0 76.17 L150.0 76.08 L151.0 76.16 L152.0 76.10 L153.0 75.91 L154.0 75.77 L155.0 75.65 L156.0 75.52 L157.0 75.44 L158.0 75.34 L159.0 75.23 L160.0 75.16 L161.0 75.07 L162.0 74.95 L163.0 74.82 L164.0 74.74 L165.0 74.73 L166.0 74.74 L167.0 74.75 L168.0 74.74 L169.0 74.76 L170.0 74.81 L171.0 74.88 L172.0 74.96 L173.0 75.04 L174.0 75.13 L175.0 75.21 L176.0 75.27 L177.0 75.37 L178.0 75.49 L179.0 75.59 L180.0 75.72 L181.0 75.84 L182.0 75.97 L183.0 76.11 L184.0 76.20 L185.0 76.25 L186.0 76.32 L187.0 76.36 L188.0 76.38 L189.0 76.41 L190.0 76.39 L191.0 76.34 L192.0 76.37 L193.0 76.43 L194.0 76.46 L195.0 76.46 L196.0 76.44 L197.0 76.44 L198.0 76.49 L199.0 76.47 L200.0 76.42 L201.0 76.40 L202.0 76.37 L203.0 76.34 L204.0 76.34 L205.0 76.36 L206.0 76.35 L207.0 76.36 L208.0 76.42 L209.0 76.40 L210.0 76.33 L211.0 76.28 L212.0 76.27 L213.0 76.24 L214.0 76.25 L215.0 76.30 L216.0 76.30 L217.0 76.28 L218.0 76.27 L219.0 76.23 L220.0 76.19 L221.0 76.20 L222.0 76.22 L223.0 76.18 L224.0 76.16 L225.0 76.12 L226.0 76.06 L227.0 76.02 L228.0 76.02 L229.0 76.03 L230.0 76.01 L231.0 75.96 L232.0 75.96 L233.0 76.00 L234.0 76.00 L235.0 75.97 L236.0 75.94 L237.0 75.92 L238.0 75.90 L239.0 75.87 L240.0 75.82 L241.0 75.78 L242.0 75.77 L243.0 75.79 L244.0 75.79 L245.0 75.71 L246.0 75.66 L247.0 75.68 L248.0 75.66 L249.0 75.59 L250.0 75.54 L251.0 75.52 L252.0 75.55 L253.0 75.55 L254.0 75.46 L255.0 75.39 L256.0 75.35 L257.0 75.32 L258.0 75.28 L259.0 75.21 L260.0 75.12 L261.0 75.07 L262.0 75.05 L263.0 74.99 L264.0 74.91 L265.0 74.83 L266.0 74.74 L267.0 74.66 L268.0 74.54 L269.0 74.41 L270.0 74.32 L271.0 74.28 L272.0 74.21 L273.0 74.04 L274.0 73.86 L275.0 73.69 L276.0 73.44 L277.0 73.19 L278.0 72.97 L279.0 72.74 L280.0 72.49 L281.0 72.27 L282.0 72.07 L283.0 71.86 L284.0 71.58 L285.0 71.28 L286.0 70.99 L287.0 70.64 L288.0 70.26 L289.0 69.86 L290.0 69.45 L291.0 69.14 L292.0 68.87 L293.0 68.63 L294.0 68.49 L295.0 68.45 L296.0 68.46 L297.0 68.53 L298.0 68.59 L299.0 68.67 L300.0 68.78 L301.0 68.89 L302.0 68.96 L303.0 69.01 L304.0 69.02 L305.0 68.97 L306.0 68.96 L307.0 68.98 L308.0 68.95 L309.0 68.87 L310.0 68.79 L311.0 68.72 L312.0 68.60 L313.0 68.35 L314.0 67.71 L315.0 66.52 L316.0 65.41 L317.0 64.27 L318.0 64.01 L319.0 64.11 L320.0 64.39 L321.0 64.73 L322.0 64.49 L323.0 63.92 L324.0 63.29 L325.0 62.61 L326.0 62.60 L327.0 62.90 L328.0 63.30 L329.0 63.85 L330.0 64.43 L331.0 64.66 L332.0 64.50 L333.0 64.09 L334.0 63.59 L335.0 62.83 L336.0 61.92 L337.0 61.40 L338.0 61.60 L339.0 62.18 L340.0 62.79 L341.0 63.63 L342.0 64.48 L343.0 64.66 L344.0 64.49 L345.0 64.09 L346.0 63.49 L347.0 62.52 L348.0 61.49 L349.0 60.47 L350.0 59.33 L351.0 58.14"/>
<path class="c" stroke="#2f9e57" d="M53.0 63.22 L54.0 62.90 L55.0 62.84 L56.0 62.68 L57.0 62.65 L58.0 62.70 L59.0 62.40 L60.0 62.32 L61.0 62.58 L62.0 62.83 L63.0 62.80 L64.0 62.37 L65.0 62.20 L66.0 62.40 L67.0 62.36 L68.0 62.07 L69.0 61.83 L70.0 62.05 L71.0 62.31 L72.0 62.30 L73.0 62.51 L74.0 62.83 L75.0 62.74 L76.0 62.17 L77.0 61.59 L78.0 61.53 L79.0 61.78 L80.0 61.99 L81.0 62.05 L82.0 62.09 L83.0 62.44 L84.0 62.41 L85.0 62.15 L86.0 62.46 L87.0 62.78 L88.0 62.77 L89.0 62.74 L90.0 62.84 L91.0 62.82 L92.0 62.69 L93.0 62.55 L94.0 62.55 L95.0 62.66 L96.0 62.58 L97.0 62.51 L98.0 62.69 L99.0 63.01 L100.0 62.96 L101.0 62.77 L102.0 62.90 L103.0 63.08 L104.0 63.19 L105.0 63.18 L106.0 63.10 L107.0 62.92 L108.0 62.85 L109.0 63.26 L110.0 63.41 L111.0 63.25 L112.0 63.52 L113.0 63.85 L114.0 63.96 L115.0 64.01 L116.0 63.84 L117.0 63.82 L118.0 64.06 L119.0 63.82 L120.0 63.68 L121.0 63.85 L122.0 63.77 L123.0 63.69 L124.0 63.72 L125.0 64.01 L126.0 64.05 L127.0 63.78 L128.0 63.83 L129.0 63.88 L130.0 63.78 L131.0 63.75 L132.0 63.63 L133.0 63.43 L134.0 63.44 L135.0 63.65 L136.0 63.82 L137.0 63.85 L138.0 63.82 L139.0 63.73 L140.0 63.73 L141.0 63.75 L142.0 63.61 L143.0 63.54 L144.0 63.46 L145.0 63.46 L146.0 63.54 L147.0 63.32 L148.0 63.01 L149.0 62.85 L150.0 62.70 L151.0 62.47 L152.0 62.10 L153.0 61.77 L154.0 61.47 L155.0 61.18 L156.0 60.94 L157.0 60.65 L158.0 60.29 L159.0 59.90 L160.0 59.59 L161.0 59.32 L162.0 59.06 L163.0 58.81 L164.0 58.59 L165.0 58.44 L166.0 58.29 L167.0 58.17 L168.0 58.13 L169.0 58.19 L170.0 58.32 L171.0 58.43 L172.0 58.54 L173.0 58.72 L174.0 58.96 L175.0 59.27 L176.0 59.57 L177.0 59.81 L178.0 60.04 L179.0 60.31 L180.0 60.55 L181.0 60.74 L182.0 60.88 L183.0 60.96 L184.0 61.05 L185.0 61.16 L186.0 61.21 L187.0 61.21 L188.0 61.23 L189.0 61.30 L190.0 61.37 L191.0 61.37 L192.0 61.35 L193.0 61.37 L194.0 61.39 L195.0 61.42 L196.0 61.46 L197.0 61.44 L198.0 61.42 L199.0 61.42 L200.0 61.38 L201.0 61.36 L202.0 61.37 L203.0 61.41 L204.0 61.43 L205.0 61.42 L206.0 61.45 L207.0 61.46 L208.0 61.43 L209.0 61.37 L210.0 61.30 L211.0 61.31 L212.0 61.35 L213.0 61.34 L214.0 61.33 L215.0 61.34 L216.0 61.36 L217.0 61.34 L218.0 61.30 L219.0 61.27 L220.0 61.25 L221.0 61.19 L222.0 61.15 L223.0 61.13 L224.0 61.10 L225.0 61.11 L226.0 61.13 L227.0 61.14 L228.0 61.13 L229.0 61.09 L230.0 61.05 L231.0 61.03 L232.0 61.03 L233.0 61.00 L234.0 60.95 L235.0 60.90 L236.0 60.84 L237.0 60.77 L238.0 60.73 L239.0 60.69 L240.0 60.59 L241.0 60.52 L242.0 60.48 L243.0 60.38 L244.0 60.25 L245.0 60.15 L246.0 60.07 L247.0 59.98 L248.0 59.88 L249.0 59.76 L250.0 59.67 L251.0 59.62 L252.0 59.56 L253.0 59.42 L254.0 59.26 L255.0 59.12 L256.0 58.98 L257.0 58.82 L258.0 58.62 L259.0 58.42 L260.0 58.24 L261.0 58.02 L262.0 57.75 L263.0 57.51 L264.0 57.30 L265.0 57.14 L266.0 57.01 L267.0 56.85 L268.0 56.67 L269.0 56.49 L270.0 56.30 L271.0 56.15 L272.0 55.97 L273.0 55.77 L274.0 55.55 L275.0 55.32 L276.0 55.04 L277.0 54.77 L278.0 54.45 L279.0 54.05 L280.0 53.58 L281.0 53.03 L282.0 52.47 L283.0 51.94 L284.0 51.37 L285.0 50.69 L286.0 49.92 L287.0 49.13 L288.0 48.24 L289.0 47.31 L290.0 46.41 L291.0 45.38 L292.0 44.16 L293.0 42.97 L294.0 42.10 L295.0 41.60 L296.0 41.18 L297.0 40.99 L298.0 41.07 L299.0 41.30 L300.0 41.64 L301.0 42.00 L302.0 42.33 L303.0 42.69 L304.0 42.96 L305.0 43.00 L306.0 42.65 L307.0 42.09 L308.0 41.62 L309.0 41.44 L310.0 41.37 L311.0 41.33 L312.0 41.33 L313.0 41.26 L314.0 40.29 L315.0 38.63 L316.0 35.72 L317.0 32.62 L318.0 30.99 L319.0 31.68 L320.0 33.02 L321.0 34.71 L322.0 34.69 L323.0 33.92 L324.0 32.26 L325.0 30.39 L326.0 29.33 L327.0 28.82 L328.0 29.26 L329.0 30.18 L330.0 31.25 L331.0 32.63 L332.0 33.35 L333.0 33.08 L334.0 32.44 L335.0 30.62 L336.0 28.33 L337.0 26.02 L338.0 24.74 L339.0 25.60 L340.0 27.29 L341.0 30.17 L342.0 32.54 L343.0 34.39 L344.0 34.84 L345.0 34.46 L346.0 33.73 L347.0 31.65 L348.0 28.60 L349.0 25.47 L350.0 21.96 L351.0 18.68"/>
</g><g clip-path="url(#cr)">
<path class="c" stroke="#bf8356" d="M403.0 239.90 L404.5 239.96 L406.0 240.02 L407.5 240.08 L409.0 240.13 L410.5 240.19 L412.0 240.24 L413.5 240.29 L415.0 240.34 L416.5 240.38 L418.0 240.43 L419.5 240.47 L421.0 240.51 L422.5 240.55 L424.0 240.58 L425.5 240.61 L427.0 240.64 L428.5 240.67 L430.0 240.70 L431.5 240.72 L433.0 240.75 L434.5 240.76 L436.0 240.78 L437.5 240.80 L439.0 240.81 L440.5 240.82 L442.0 240.82 L443.5 240.83 L445.0 240.83 L446.5 240.83 L448.0 240.82 L449.5 240.82 L451.0 240.81 L452.5 240.80 L454.0 240.77 L455.5 240.74 L457.0 240.69 L458.5 240.64 L460.0 240.58 L461.5 240.53 L463.0 240.47 L464.5 240.42 L466.0 240.37 L467.5 240.33 L469.0 240.31 L470.5 240.30 L472.0 240.29 L473.5 240.28 L475.0 240.28 L476.5 240.28 L478.0 240.28 L479.5 240.28 L481.0 240.28 L482.5 240.29 L484.0 240.30 L485.5 240.30 L487.0 240.31 L488.5 240.32 L490.0 240.34 L491.5 240.35 L493.0 240.36 L494.5 240.38 L496.0 240.40 L497.5 240.41 L499.0 240.43 L500.5 240.45 L502.0 240.47 L503.5 240.49 L505.0 240.52 L506.5 240.55 L508.0 240.58 L509.5 240.62 L511.0 240.67 L512.5 240.72 L514.0 240.77 L515.5 240.83 L517.0 240.88 L518.5 240.94 L520.0 241.00 L521.5 241.09 L523.0 241.23 L524.5 241.41 L526.0 241.61 L527.5 241.81 L529.0 241.99 L530.5 242.15 L532.0 242.26 L533.5 242.30 L535.0 242.22 L536.5 242.04 L538.0 241.79 L539.5 241.50 L541.0 241.22 L542.5 240.99 L544.0 240.84 L545.5 240.80 L547.0 240.80 L548.5 240.83 L550.0 240.86 L551.5 240.88 L553.0 240.90 L554.5 240.90 L556.0 240.89 L557.5 240.86 L559.0 240.83 L560.5 240.80 L562.0 240.76 L563.5 240.72 L565.0 240.68 L566.5 240.63 L568.0 240.58 L569.5 240.54 L571.0 240.49 L572.5 240.45 L574.0 240.40 L575.5 240.36 L577.0 240.33 L578.5 240.29 L580.0 240.26 L581.5 240.24 L583.0 240.22 L584.5 240.20 L586.0 240.20 L587.5 240.21 L589.0 240.24 L590.5 240.28 L592.0 240.34 L593.5 240.41 L595.0 240.49 L596.5 240.57 L598.0 240.66 L599.5 240.76 L601.0 240.86 L602.5 240.96 L604.0 241.06 L605.5 241.16 L607.0 241.26 L608.5 241.35 L610.0 241.43 L611.5 241.50 L613.0 241.57 L614.5 241.62 L616.0 241.66 L617.5 241.69 L619.0 241.70 L620.5 241.69 L622.0 241.66 L623.5 241.61 L625.0 241.54 L626.5 241.46 L628.0 241.37 L629.5 241.28 L631.0 241.18 L632.5 241.07 L634.0 240.97 L635.5 240.87 L637.0 240.78 L638.5 240.69 L640.0 240.62 L641.5 240.56 L643.0 240.52 L644.5 240.50 L646.0 240.50 L647.5 240.51 L649.0 240.53 L650.5 240.56 L652.0 240.59 L653.5 240.63 L655.0 240.68 L656.5 240.73 L658.0 240.79 L659.5 240.85 L661.0 240.91 L662.5 240.97 L664.0 241.03 L665.5 241.09 L667.0 241.14 L668.5 241.20 L670.0 241.25 L671.5 241.29 L673.0 241.33 L674.5 241.36 L676.0 241.38 L677.5 241.40 L679.0 241.40 L680.5 241.40 L682.0 241.38 L683.5 241.37 L685.0 241.34 L686.5 241.32 L688.0 241.28 L689.5 241.24 L691.0 241.20 L692.5 241.15 L694.0 241.09 L695.5 241.03 L697.0 240.96 L698.5 240.88 L700.0 240.80"/>
<path class="c" stroke="#ec9250" d="M403.0 221.20 L404.5 221.25 L406.0 221.29 L407.5 221.33 L409.0 221.37 L410.5 221.41 L412.0 221.45 L413.5 221.49 L415.0 221.53 L416.5 221.57 L418.0 221.60 L419.5 221.63 L421.0 221.67 L422.5 221.70 L424.0 221.73 L425.5 221.76 L427.0 221.79 L428.5 221.82 L430.0 221.84 L431.5 221.87 L433.0 221.89 L434.5 221.91 L436.0 221.94 L437.5 221.96 L439.0 221.98 L440.5 221.99 L442.0 222.01 L443.5 222.03 L445.0 222.04 L446.5 222.06 L448.0 222.07 L449.5 222.08 L451.0 222.09 L452.5 222.10 L454.0 222.11 L455.5 222.12 L457.0 222.12 L458.5 222.12 L460.0 222.12 L461.5 222.11 L463.0 222.11 L464.5 222.10 L466.0 222.09 L467.5 222.08 L469.0 222.07 L470.5 222.05 L472.0 222.04 L473.5 222.02 L475.0 222.01 L476.5 221.99 L478.0 221.98 L479.5 221.96 L481.0 221.94 L482.5 221.93 L484.0 221.91 L485.5 221.90 L487.0 221.88 L488.5 221.87 L490.0 221.85 L491.5 221.84 L493.0 221.83 L494.5 221.82 L496.0 221.81 L497.5 221.81 L499.0 221.80 L500.5 221.80 L502.0 221.80 L503.5 221.80 L505.0 221.80 L506.5 221.81 L508.0 221.83 L509.5 221.85 L511.0 221.88 L512.5 221.91 L514.0 221.95 L515.5 221.98 L517.0 222.02 L518.5 222.06 L520.0 222.10 L521.5 222.16 L523.0 222.26 L524.5 222.39 L526.0 222.53 L527.5 222.67 L529.0 222.80 L530.5 222.91 L532.0 222.98 L533.5 223.00 L535.0 222.96 L536.5 222.86 L538.0 222.73 L539.5 222.58 L541.0 222.43 L542.5 222.31 L544.0 222.22 L545.5 222.20 L547.0 222.19 L548.5 222.20 L550.0 222.20 L551.5 222.21 L553.0 222.21 L554.5 222.21 L556.0 222.19 L557.5 222.16 L559.0 222.13 L560.5 222.10 L562.0 222.06 L563.5 222.02 L565.0 221.98 L566.5 221.93 L568.0 221.89 L569.5 221.84 L571.0 221.80 L572.5 221.75 L574.0 221.71 L575.5 221.67 L577.0 221.63 L578.5 221.60 L580.0 221.57 L581.5 221.54 L583.0 221.52 L584.5 221.50 L586.0 221.50 L587.5 221.50 L589.0 221.51 L590.5 221.54 L592.0 221.57 L593.5 221.62 L595.0 221.67 L596.5 221.72 L598.0 221.78 L599.5 221.84 L601.0 221.91 L602.5 221.97 L604.0 222.04 L605.5 222.10 L607.0 222.16 L608.5 222.22 L610.0 222.27 L611.5 222.31 L613.0 222.35 L614.5 222.38 L616.0 222.40 L617.5 222.40 L619.0 222.40 L620.5 222.38 L622.0 222.36 L623.5 222.33 L625.0 222.30 L626.5 222.26 L628.0 222.22 L629.5 222.18 L631.0 222.13 L632.5 222.08 L634.0 222.04 L635.5 221.99 L637.0 221.95 L638.5 221.91 L640.0 221.88 L641.5 221.85 L643.0 221.82 L644.5 221.80 L646.0 221.79 L647.5 221.78 L649.0 221.77 L650.5 221.76 L652.0 221.75 L653.5 221.74 L655.0 221.73 L656.5 221.73 L658.0 221.72 L659.5 221.71 L661.0 221.70 L662.5 221.70 L664.0 221.69 L665.5 221.69 L667.0 221.68 L668.5 221.68 L670.0 221.67 L671.5 221.67 L673.0 221.67 L674.5 221.67 L676.0 221.67 L677.5 221.67 L679.0 221.67 L680.5 221.67 L682.0 221.68 L683.5 221.68 L685.0 221.69 L686.5 221.69 L688.0 221.70 L689.5 221.71 L691.0 221.72 L692.5 221.73 L694.0 221.74 L695.5 221.75 L697.0 221.77 L698.5 221.78 L700.0 221.80"/>
<path class="c" stroke="#faa33e" d="M403.0 201.60 L404.5 201.67 L406.0 201.73 L407.5 201.79 L409.0 201.85 L410.5 201.91 L412.0 201.96 L413.5 202.02 L415.0 202.07 L416.5 202.12 L418.0 202.16 L419.5 202.21 L421.0 202.25 L422.5 202.29 L424.0 202.32 L425.5 202.36 L427.0 202.39 L428.5 202.42 L430.0 202.45 L431.5 202.47 L433.0 202.49 L434.5 202.51 L436.0 202.53 L437.5 202.54 L439.0 202.55 L440.5 202.55 L442.0 202.56 L443.5 202.56 L445.0 202.56 L446.5 202.55 L448.0 202.54 L449.5 202.53 L451.0 202.51 L452.5 202.49 L454.0 202.46 L455.5 202.42 L457.0 202.37 L458.5 202.31 L460.0 202.24 L461.5 202.18 L463.0 202.11 L464.5 202.05 L466.0 202.00 L467.5 201.95 L469.0 201.92 L470.5 201.89 L472.0 201.88 L473.5 201.86 L475.0 201.85 L476.5 201.84 L478.0 201.83 L479.5 201.82 L481.0 201.82 L482.5 201.81 L484.0 201.81 L485.5 201.81 L487.0 201.81 L488.5 201.81 L490.0 201.82 L491.5 201.82 L493.0 201.83 L494.5 201.83 L496.0 201.84 L497.5 201.85 L499.0 201.86 L500.5 201.87 L502.0 201.88 L503.5 201.90 L505.0 201.91 L506.5 201.93 L508.0 201.97 L509.5 202.01 L511.0 202.05 L512.5 202.10 L514.0 202.16 L515.5 202.22 L517.0 202.28 L518.5 202.34 L520.0 202.40 L521.5 202.51 L523.0 202.68 L524.5 202.91 L526.0 203.17 L527.5 203.42 L529.0 203.66 L530.5 203.85 L532.0 203.97 L533.5 204.00 L535.0 203.89 L536.5 203.68 L538.0 203.40 L539.5 203.09 L541.0 202.79 L542.5 202.53 L544.0 202.35 L545.5 202.29 L547.0 202.26 L548.5 202.23 L550.0 202.20 L551.5 202.17 L553.0 202.14 L554.5 202.11 L556.0 202.08 L557.5 202.06 L559.0 202.03 L560.5 202.00 L562.0 201.98 L563.5 201.95 L565.0 201.92 L566.5 201.90 L568.0 201.87 L569.5 201.85 L571.0 201.82 L572.5 201.80 L574.0 201.77 L575.5 201.75 L577.0 201.72 L578.5 201.70 L580.0 201.68 L581.5 201.65 L583.0 201.63 L584.5 201.61 L586.0 201.59 L587.5 201.59 L589.0 201.61 L590.5 201.65 L592.0 201.70 L593.5 201.76 L595.0 201.83 L596.5 201.92 L598.0 202.01 L599.5 202.11 L601.0 202.21 L602.5 202.31 L604.0 202.42 L605.5 202.52 L607.0 202.62 L608.5 202.71 L610.0 202.80 L611.5 202.88 L613.0 202.95 L614.5 203.01 L616.0 203.06 L617.5 203.09 L619.0 203.10 L620.5 203.09 L622.0 203.06 L623.5 203.02 L625.0 202.95 L626.5 202.88 L628.0 202.79 L629.5 202.70 L631.0 202.60 L632.5 202.49 L634.0 202.39 L635.5 202.29 L637.0 202.20 L638.5 202.11 L640.0 202.04 L641.5 201.98 L643.0 201.93 L644.5 201.90 L646.0 201.90 L647.5 201.90 L649.0 201.92 L650.5 201.94 L652.0 201.98 L653.5 202.02 L655.0 202.07 L656.5 202.12 L658.0 202.18 L659.5 202.24 L661.0 202.30 L662.5 202.37 L664.0 202.43 L665.5 202.49 L667.0 202.55 L668.5 202.61 L670.0 202.66 L671.5 202.71 L673.0 202.74 L674.5 202.77 L676.0 202.80 L677.5 202.81 L679.0 202.81 L680.5 202.79 L682.0 202.77 L683.5 202.74 L685.0 202.71 L686.5 202.66 L688.0 202.61 L689.5 202.55 L691.0 202.48 L692.5 202.40 L694.0 202.32 L695.5 202.23 L697.0 202.13 L698.5 202.02 L700.0 201.90"/>
<path class="c" stroke="#fecb6e" d="M403.0 171.70 L404.5 171.74 L406.0 171.77 L407.5 171.81 L409.0 171.84 L410.5 171.88 L412.0 171.91 L413.5 171.94 L415.0 171.98 L416.5 172.01 L418.0 172.04 L419.5 172.07 L421.0 172.10 L422.5 172.13 L424.0 172.16 L425.5 172.19 L427.0 172.22 L428.5 172.24 L430.0 172.27 L431.5 172.30 L433.0 172.32 L434.5 172.35 L436.0 172.37 L437.5 172.40 L439.0 172.42 L440.5 172.44 L442.0 172.47 L443.5 172.49 L445.0 172.51 L446.5 172.53 L448.0 172.55 L449.5 172.57 L451.0 172.59 L452.5 172.61 L454.0 172.62 L455.5 172.64 L457.0 172.65 L458.5 172.67 L460.0 172.68 L461.5 172.69 L463.0 172.70 L464.5 172.71 L466.0 172.72 L467.5 172.73 L469.0 172.74 L470.5 172.74 L472.0 172.75 L473.5 172.76 L475.0 172.76 L476.5 172.77 L478.0 172.77 L479.5 172.78 L481.0 172.78 L482.5 172.79 L484.0 172.79 L485.5 172.80 L487.0 172.81 L488.5 172.81 L490.0 172.82 L491.5 172.82 L493.0 172.83 L494.5 172.84 L496.0 172.85 L497.5 172.85 L499.0 172.86 L500.5 172.87 L502.0 172.88 L503.5 172.90 L505.0 172.91 L506.5 172.93 L508.0 172.95 L509.5 172.97 L511.0 173.00 L512.5 173.03 L514.0 173.06 L515.5 173.09 L517.0 173.13 L518.5 173.16 L520.0 173.20 L521.5 173.27 L523.0 173.39 L524.5 173.52 L526.0 173.66 L527.5 173.76 L529.0 173.80 L530.5 173.78 L532.0 173.74 L533.5 173.67 L535.0 173.59 L536.5 173.51 L538.0 173.45 L539.5 173.41 L541.0 173.39 L542.5 173.38 L544.0 173.37 L545.5 173.36 L547.0 173.35 L548.5 173.35 L550.0 173.34 L551.5 173.33 L553.0 173.32 L554.5 173.30 L556.0 173.29 L557.5 173.27 L559.0 173.26 L560.5 173.24 L562.0 173.22 L563.5 173.19 L565.0 173.17 L566.5 173.15 L568.0 173.13 L569.5 173.10 L571.0 173.08 L572.5 173.06 L574.0 173.03 L575.5 173.01 L577.0 172.99 L578.5 172.97 L580.0 172.95 L581.5 172.93 L583.0 172.92 L584.5 172.90 L586.0 172.90 L587.5 172.90 L589.0 172.92 L590.5 172.95 L592.0 172.99 L593.5 173.04 L595.0 173.10 L596.5 173.16 L598.0 173.23 L599.5 173.30 L601.0 173.37 L602.5 173.44 L604.0 173.51 L605.5 173.57 L607.0 173.63 L608.5 173.69 L610.0 173.73 L611.5 173.77 L613.0 173.79 L614.5 173.80 L616.0 173.80 L617.5 173.79 L619.0 173.78 L620.5 173.76 L622.0 173.74 L623.5 173.71 L625.0 173.68 L626.5 173.65 L628.0 173.61 L629.5 173.58 L631.0 173.54 L632.5 173.50 L634.0 173.47 L635.5 173.43 L637.0 173.39 L638.5 173.36 L640.0 173.33 L641.5 173.30 L643.0 173.27 L644.5 173.25 L646.0 173.23 L647.5 173.21 L649.0 173.20 L650.5 173.20 L652.0 173.20 L653.5 173.20 L655.0 173.19 L656.5 173.19 L658.0 173.19 L659.5 173.19 L661.0 173.19 L662.5 173.19 L664.0 173.20 L665.5 173.20 L667.0 173.20 L668.5 173.21 L670.0 173.21 L671.5 173.21 L673.0 173.22 L674.5 173.23 L676.0 173.24 L677.5 173.24 L679.0 173.25 L680.5 173.26 L682.0 173.28 L683.5 173.29 L685.0 173.30 L686.5 173.32 L688.0 173.33 L689.5 173.35 L691.0 173.37 L692.5 173.39 L694.0 173.41 L695.5 173.43 L697.0 173.45 L698.5 173.47 L700.0 173.50"/>
<path class="c" stroke="#ffea94" d="M403.0 144.70 L404.5 144.78 L406.0 144.86 L407.5 144.94 L409.0 145.02 L410.5 145.10 L412.0 145.18 L413.5 145.25 L415.0 145.33 L416.5 145.41 L418.0 145.48 L419.5 145.55 L421.0 145.62 L422.5 145.69 L424.0 145.76 L425.5 145.83 L427.0 145.90 L428.5 145.96 L430.0 146.03 L431.5 146.09 L433.0 146.15 L434.5 146.21 L436.0 146.27 L437.5 146.33 L439.0 146.38 L440.5 146.44 L442.0 146.49 L443.5 146.54 L445.0 146.59 L446.5 146.64 L448.0 146.69 L449.5 146.73 L451.0 146.77 L452.5 146.81 L454.0 146.85 L455.5 146.89 L457.0 146.93 L458.5 146.96 L460.0 146.99 L461.5 147.03 L463.0 147.06 L464.5 147.09 L466.0 147.12 L467.5 147.14 L469.0 147.17 L470.5 147.20 L472.0 147.22 L473.5 147.25 L475.0 147.27 L476.5 147.30 L478.0 147.32 L479.5 147.35 L481.0 147.37 L482.5 147.39 L484.0 147.42 L485.5 147.44 L487.0 147.47 L488.5 147.49 L490.0 147.52 L491.5 147.55 L493.0 147.57 L494.5 147.60 L496.0 147.63 L497.5 147.66 L499.0 147.69 L500.5 147.72 L502.0 147.75 L503.5 147.79 L505.0 147.82 L506.5 147.87 L508.0 147.91 L509.5 147.96 L511.0 148.01 L512.5 148.06 L514.0 148.11 L515.5 148.17 L517.0 148.22 L518.5 148.28 L520.0 148.33 L521.5 148.38 L523.0 148.43 L524.5 148.47 L526.0 148.51 L527.5 148.55 L529.0 148.58 L530.5 148.61 L532.0 148.62 L533.5 148.63 L535.0 148.63 L536.5 148.62 L538.0 148.61 L539.5 148.59 L541.0 148.56 L542.5 148.54 L544.0 148.51 L545.5 148.49 L547.0 148.46 L548.5 148.44 L550.0 148.42 L551.5 148.41 L553.0 148.40 L554.5 148.40 L556.0 148.41 L557.5 148.42 L559.0 148.43 L560.5 148.44 L562.0 148.46 L563.5 148.47 L565.0 148.49 L566.5 148.51 L568.0 148.54 L569.5 148.56 L571.0 148.58 L572.5 148.61 L574.0 148.63 L575.5 148.66 L577.0 148.69 L578.5 148.71 L580.0 148.74 L581.5 148.77 L583.0 148.80 L584.5 148.82 L586.0 148.85 L587.5 148.87 L589.0 148.90 L590.5 148.92 L592.0 148.95 L593.5 148.97 L595.0 148.99 L596.5 149.01 L598.0 149.03 L599.5 149.04 L601.0 149.06 L602.5 149.07 L604.0 149.08 L605.5 149.09 L607.0 149.10 L608.5 149.10 L610.0 149.10 L611.5 149.10 L613.0 149.10 L614.5 149.09 L616.0 149.09 L617.5 149.08 L619.0 149.07 L620.5 149.07 L622.0 149.06 L623.5 149.05 L625.0 149.03 L626.5 149.02 L628.0 149.01 L629.5 148.99 L631.0 148.98 L632.5 148.96 L634.0 148.94 L635.5 148.92 L637.0 148.90 L638.5 148.88 L640.0 148.86 L641.5 148.83 L643.0 148.81 L644.5 148.78 L646.0 148.76 L647.5 148.73 L649.0 148.70 L650.5 148.67 L652.0 148.64 L653.5 148.61 L655.0 148.58 L656.5 148.55 L658.0 148.51 L659.5 148.48 L661.0 148.44 L662.5 148.41 L664.0 148.37 L665.5 148.34 L667.0 148.30 L668.5 148.26 L670.0 148.23 L671.5 148.19 L673.0 148.15 L674.5 148.11 L676.0 148.07 L677.5 148.02 L679.0 147.98 L680.5 147.94 L682.0 147.89 L683.5 147.85 L685.0 147.80 L686.5 147.76 L688.0 147.71 L689.5 147.66 L691.0 147.61 L692.5 147.56 L694.0 147.51 L695.5 147.46 L697.0 147.41 L698.5 147.35 L700.0 147.30"/>
<path class="c" stroke="#e4ef96" d="M403.0 124.60 L404.5 124.69 L406.0 124.77 L407.5 124.86 L409.0 124.94 L410.5 125.03 L412.0 125.11 L413.5 125.20 L415.0 125.28 L416.5 125.36 L418.0 125.44 L419.5 125.52 L421.0 125.60 L422.5 125.68 L424.0 125.76 L425.5 125.83 L427.0 125.91 L428.5 125.98 L430.0 126.06 L431.5 126.13 L433.0 126.20 L434.5 126.27 L436.0 126.34 L437.5 126.41 L439.0 126.48 L440.5 126.54 L442.0 126.61 L443.5 126.67 L445.0 126.73 L446.5 126.79 L448.0 126.85 L449.5 126.91 L451.0 126.96 L452.5 127.02 L454.0 127.07 L455.5 127.12 L457.0 127.18 L458.5 127.23 L460.0 127.28 L461.5 127.32 L463.0 127.37 L464.5 127.42 L466.0 127.47 L467.5 127.51 L469.0 127.56 L470.5 127.60 L472.0 127.65 L473.5 127.69 L475.0 127.74 L476.5 127.78 L478.0 127.82 L479.5 127.87 L481.0 127.91 L482.5 127.95 L484.0 128.00 L485.5 128.04 L487.0 128.08 L488.5 128.13 L490.0 128.17 L491.5 128.21 L493.0 128.26 L494.5 128.30 L496.0 128.35 L497.5 128.39 L499.0 128.44 L500.5 128.49 L502.0 128.54 L503.5 128.58 L505.0 128.63 L506.5 128.69 L508.0 128.74 L509.5 128.80 L511.0 128.86 L512.5 128.93 L514.0 128.99 L515.5 129.06 L517.0 129.12 L518.5 129.18 L520.0 129.25 L521.5 129.31 L523.0 129.37 L524.5 129.42 L526.0 129.48 L527.5 129.53 L529.0 129.57 L530.5 129.61 L532.0 129.64 L533.5 129.64 L535.0 129.63 L536.5 129.61 L538.0 129.57 L539.5 129.53 L541.0 129.48 L542.5 129.43 L544.0 129.37 L545.5 129.31 L547.0 129.26 L548.5 129.21 L550.0 129.17 L551.5 129.13 L553.0 129.11 L554.5 129.10 L556.0 129.10 L557.5 129.11 L559.0 129.12 L560.5 129.13 L562.0 129.14 L563.5 129.15 L565.0 129.16 L566.5 129.18 L568.0 129.20 L569.5 129.22 L571.0 129.23 L572.5 129.25 L574.0 129.27 L575.5 129.29 L577.0 129.32 L578.5 129.34 L580.0 129.36 L581.5 129.38 L583.0 129.40 L584.5 129.42 L586.0 129.44 L587.5 129.46 L589.0 129.48 L590.5 129.50 L592.0 129.52 L593.5 129.53 L595.0 129.55 L596.5 129.56 L598.0 129.57 L599.5 129.59 L601.0 129.59 L602.5 129.60 L604.0 129.61 L605.5 129.61 L607.0 129.61 L608.5 129.61 L610.0 129.60 L611.5 129.59 L613.0 129.59 L614.5 129.58 L616.0 129.57 L617.5 129.56 L619.0 129.56 L620.5 129.55 L622.0 129.54 L623.5 129.53 L625.0 129.52 L626.5 129.51 L628.0 129.50 L629.5 129.48 L631.0 129.47 L632.5 129.46 L634.0 129.45 L635.5 129.43 L637.0 129.42 L638.5 129.40 L640.0 129.39 L641.5 129.37 L643.0 129.35 L644.5 129.33 L646.0 129.31 L647.5 129.29 L649.0 129.27 L650.5 129.25 L652.0 129.23 L653.5 129.21 L655.0 129.18 L656.5 129.16 L658.0 129.14 L659.5 129.11 L661.0 129.09 L662.5 129.06 L664.0 129.04 L665.5 129.01 L667.0 128.99 L668.5 128.96 L670.0 128.93 L671.5 128.90 L673.0 128.88 L674.5 128.85 L676.0 128.82 L677.5 128.79 L679.0 128.76 L680.5 128.73 L682.0 128.70 L683.5 128.67 L685.0 128.64 L686.5 128.61 L688.0 128.58 L689.5 128.55 L691.0 128.51 L692.5 128.48 L694.0 128.44 L695.5 128.41 L697.0 128.37 L698.5 128.34 L700.0 128.30"/>
<path class="c" stroke="#b5d97a" d="M403.0 106.90 L404.5 106.97 L406.0 107.04 L407.5 107.11 L409.0 107.18 L410.5 107.24 L412.0 107.31 L413.5 107.38 L415.0 107.44 L416.5 107.51 L418.0 107.57 L419.5 107.64 L421.0 107.70 L422.5 107.76 L424.0 107.82 L425.5 107.88 L427.0 107.94 L428.5 108.00 L430.0 108.06 L431.5 108.12 L433.0 108.17 L434.5 108.23 L436.0 108.28 L437.5 108.34 L439.0 108.39 L440.5 108.44 L442.0 108.49 L443.5 108.54 L445.0 108.59 L446.5 108.64 L448.0 108.68 L449.5 108.73 L451.0 108.77 L452.5 108.81 L454.0 108.86 L455.5 108.90 L457.0 108.94 L458.5 108.97 L460.0 109.01 L461.5 109.05 L463.0 109.09 L464.5 109.12 L466.0 109.16 L467.5 109.19 L469.0 109.23 L470.5 109.26 L472.0 109.29 L473.5 109.32 L475.0 109.36 L476.5 109.39 L478.0 109.42 L479.5 109.45 L481.0 109.49 L482.5 109.52 L484.0 109.55 L485.5 109.58 L487.0 109.61 L488.5 109.65 L490.0 109.68 L491.5 109.71 L493.0 109.74 L494.5 109.78 L496.0 109.81 L497.5 109.84 L499.0 109.88 L500.5 109.91 L502.0 109.95 L503.5 109.99 L505.0 110.03 L506.5 110.07 L508.0 110.11 L509.5 110.16 L511.0 110.21 L512.5 110.26 L514.0 110.31 L515.5 110.36 L517.0 110.42 L518.5 110.47 L520.0 110.52 L521.5 110.57 L523.0 110.62 L524.5 110.66 L526.0 110.70 L527.5 110.74 L529.0 110.78 L530.5 110.81 L532.0 110.82 L533.5 110.83 L535.0 110.81 L536.5 110.79 L538.0 110.75 L539.5 110.71 L541.0 110.66 L542.5 110.61 L544.0 110.56 L545.5 110.50 L547.0 110.45 L548.5 110.41 L550.0 110.37 L551.5 110.33 L553.0 110.31 L554.5 110.30 L556.0 110.30 L557.5 110.31 L559.0 110.31 L560.5 110.32 L562.0 110.33 L563.5 110.34 L565.0 110.35 L566.5 110.37 L568.0 110.39 L569.5 110.40 L571.0 110.42 L572.5 110.44 L574.0 110.46 L575.5 110.48 L577.0 110.50 L578.5 110.52 L580.0 110.55 L581.5 110.57 L583.0 110.59 L584.5 110.61 L586.0 110.63 L587.5 110.65 L589.0 110.67 L590.5 110.69 L592.0 110.71 L593.5 110.73 L595.0 110.74 L596.5 110.76 L598.0 110.77 L599.5 110.78 L601.0 110.79 L602.5 110.80 L604.0 110.80 L605.5 110.81 L607.0 110.81 L608.5 110.80 L610.0 110.80 L611.5 110.79 L613.0 110.79 L614.5 110.78 L616.0 110.77 L617.5 110.76 L619.0 110.75 L620.5 110.74 L622.0 110.73 L623.5 110.72 L625.0 110.71 L626.5 110.70 L628.0 110.68 L629.5 110.67 L631.0 110.65 L632.5 110.64 L634.0 110.62 L635.5 110.60 L637.0 110.58 L638.5 110.56 L640.0 110.54 L641.5 110.52 L643.0 110.50 L644.5 110.47 L646.0 110.45 L647.5 110.42 L649.0 110.40 L650.5 110.37 L652.0 110.34 L653.5 110.31 L655.0 110.28 L656.5 110.25 L658.0 110.22 L659.5 110.18 L661.0 110.15 L662.5 110.11 L664.0 110.08 L665.5 110.04 L667.0 110.01 L668.5 109.97 L670.0 109.93 L671.5 109.89 L673.0 109.85 L674.5 109.81 L676.0 109.77 L677.5 109.73 L679.0 109.69 L680.5 109.64 L682.0 109.60 L683.5 109.55 L685.0 109.51 L686.5 109.46 L688.0 109.41 L689.5 109.36 L691.0 109.31 L692.5 109.26 L694.0 109.21 L695.5 109.16 L697.0 109.11 L698.5 109.05 L700.0 109.00"/>
<path class="c" stroke="#8dc878" d="M403.0 87.20 L404.5 87.30 L406.0 87.39 L407.5 87.49 L409.0 87.58 L410.5 87.67 L412.0 87.76 L413.5 87.84 L415.0 87.93 L416.5 88.01 L418.0 88.09 L419.5 88.17 L421.0 88.25 L422.5 88.33 L424.0 88.40 L425.5 88.48 L427.0 88.55 L428.5 88.62 L430.0 88.69 L431.5 88.76 L433.0 88.82 L434.5 88.89 L436.0 88.95 L437.5 89.01 L439.0 89.07 L440.5 89.13 L442.0 89.19 L443.5 89.24 L445.0 89.29 L446.5 89.34 L448.0 89.39 L449.5 89.43 L451.0 89.47 L452.5 89.51 L454.0 89.55 L455.5 89.59 L457.0 89.62 L458.5 89.65 L460.0 89.68 L461.5 89.71 L463.0 89.73 L464.5 89.76 L466.0 89.78 L467.5 89.81 L469.0 89.83 L470.5 89.85 L472.0 89.87 L473.5 89.89 L475.0 89.91 L476.5 89.92 L478.0 89.94 L479.5 89.96 L481.0 89.98 L482.5 89.99 L484.0 90.01 L485.5 90.03 L487.0 90.05 L488.5 90.06 L490.0 90.08 L491.5 90.10 L493.0 90.12 L494.5 90.14 L496.0 90.16 L497.5 90.19 L499.0 90.21 L500.5 90.24 L502.0 90.26 L503.5 90.29 L505.0 90.32 L506.5 90.36 L508.0 90.40 L509.5 90.45 L511.0 90.49 L512.5 90.55 L514.0 90.60 L515.5 90.66 L517.0 90.71 L518.5 90.77 L520.0 90.82 L521.5 90.88 L523.0 90.93 L524.5 90.97 L526.0 91.02 L527.5 91.05 L529.0 91.08 L530.5 91.11 L532.0 91.11 L533.5 91.10 L535.0 91.06 L536.5 91.02 L538.0 90.96 L539.5 90.89 L541.0 90.81 L542.5 90.74 L544.0 90.66 L545.5 90.58 L547.0 90.51 L548.5 90.44 L550.0 90.38 L551.5 90.34 L553.0 90.31 L554.5 90.30 L556.0 90.30 L557.5 90.31 L559.0 90.32 L560.5 90.34 L562.0 90.35 L563.5 90.37 L565.0 90.39 L566.5 90.41 L568.0 90.44 L569.5 90.46 L571.0 90.49 L572.5 90.52 L574.0 90.55 L575.5 90.58 L577.0 90.61 L578.5 90.64 L580.0 90.67 L581.5 90.70 L583.0 90.73 L584.5 90.76 L586.0 90.79 L587.5 90.82 L589.0 90.85 L590.5 90.88 L592.0 90.90 L593.5 90.93 L595.0 90.96 L596.5 90.98 L598.0 91.00 L599.5 91.02 L601.0 91.04 L602.5 91.06 L604.0 91.07 L605.5 91.08 L607.0 91.09 L608.5 91.10 L610.0 91.10 L611.5 91.10 L613.0 91.10 L614.5 91.10 L616.0 91.10 L617.5 91.11 L619.0 91.11 L620.5 91.10 L622.0 91.10 L623.5 91.10 L625.0 91.10 L626.5 91.10 L628.0 91.10 L629.5 91.09 L631.0 91.09 L632.5 91.08 L634.0 91.08 L635.5 91.07 L637.0 91.06 L638.5 91.05 L640.0 91.04 L641.5 91.03 L643.0 91.02 L644.5 91.01 L646.0 90.99 L647.5 90.98 L649.0 90.96 L650.5 90.95 L652.0 90.93 L653.5 90.91 L655.0 90.89 L656.5 90.86 L658.0 90.84 L659.5 90.82 L661.0 90.79 L662.5 90.76 L664.0 90.74 L665.5 90.71 L667.0 90.68 L668.5 90.65 L670.0 90.62 L671.5 90.59 L673.0 90.55 L674.5 90.52 L676.0 90.49 L677.5 90.45 L679.0 90.41 L680.5 90.38 L682.0 90.34 L683.5 90.30 L685.0 90.26 L686.5 90.22 L688.0 90.17 L689.5 90.13 L691.0 90.09 L692.5 90.04 L694.0 89.99 L695.5 89.95 L697.0 89.90 L698.5 89.85 L700.0 89.80"/>
<path class="c" stroke="#5db35f" d="M403.0 66.40 L404.5 66.54 L406.0 66.67 L407.5 66.80 L409.0 66.93 L410.5 67.05 L412.0 67.17 L413.5 67.29 L415.0 67.41 L416.5 67.52 L418.0 67.63 L419.5 67.74 L421.0 67.85 L422.5 67.96 L424.0 68.06 L425.5 68.17 L427.0 68.27 L428.5 68.37 L430.0 68.46 L431.5 68.56 L433.0 68.65 L434.5 68.74 L436.0 68.83 L437.5 68.91 L439.0 68.99 L440.5 69.06 L442.0 69.13 L443.5 69.20 L445.0 69.26 L446.5 69.32 L448.0 69.38 L449.5 69.43 L451.0 69.47 L452.5 69.51 L454.0 69.54 L455.5 69.56 L457.0 69.56 L458.5 69.56 L460.0 69.55 L461.5 69.54 L463.0 69.52 L464.5 69.50 L466.0 69.48 L467.5 69.46 L469.0 69.45 L470.5 69.44 L472.0 69.43 L473.5 69.43 L475.0 69.44 L476.5 69.47 L478.0 69.50 L479.5 69.54 L481.0 69.59 L482.5 69.63 L484.0 69.68 L485.5 69.72 L487.0 69.77 L488.5 69.82 L490.0 69.86 L491.5 69.91 L493.0 69.96 L494.5 70.01 L496.0 70.06 L497.5 70.10 L499.0 70.15 L500.5 70.20 L502.0 70.24 L503.5 70.29 L505.0 70.33 L506.5 70.37 L508.0 70.40 L509.5 70.44 L511.0 70.48 L512.5 70.51 L514.0 70.55 L515.5 70.59 L517.0 70.64 L518.5 70.74 L520.0 70.87 L521.5 71.02 L523.0 71.19 L524.5 71.35 L526.0 71.49 L527.5 71.61 L529.0 71.68 L530.5 71.70 L532.0 71.67 L533.5 71.60 L535.0 71.50 L536.5 71.38 L538.0 71.25 L539.5 71.13 L541.0 71.02 L542.5 70.94 L544.0 70.90 L545.5 70.88 L547.0 70.87 L548.5 70.86 L550.0 70.85 L551.5 70.84 L553.0 70.83 L554.5 70.81 L556.0 70.78 L557.5 70.75 L559.0 70.71 L560.5 70.67 L562.0 70.63 L563.5 70.59 L565.0 70.54 L566.5 70.50 L568.0 70.45 L569.5 70.41 L571.0 70.38 L572.5 70.35 L574.0 70.32 L575.5 70.30 L577.0 70.30 L578.5 70.30 L580.0 70.31 L581.5 70.33 L583.0 70.36 L584.5 70.40 L586.0 70.45 L587.5 70.50 L589.0 70.55 L590.5 70.61 L592.0 70.67 L593.5 70.73 L595.0 70.79 L596.5 70.86 L598.0 70.92 L599.5 70.98 L601.0 71.05 L602.5 71.14 L604.0 71.25 L605.5 71.36 L607.0 71.47 L608.5 71.55 L610.0 71.60 L611.5 71.59 L613.0 71.52 L614.5 71.41 L616.0 71.28 L617.5 71.15 L619.0 71.03 L620.5 70.94 L622.0 70.90 L623.5 70.89 L625.0 70.89 L626.5 70.88 L628.0 70.87 L629.5 70.87 L631.0 70.87 L632.5 70.86 L634.0 70.86 L635.5 70.86 L637.0 70.85 L638.5 70.85 L640.0 70.85 L641.5 70.84 L643.0 70.84 L644.5 70.83 L646.0 70.83 L647.5 70.83 L649.0 70.82 L650.5 70.82 L652.0 70.81 L653.5 70.80 L655.0 70.79 L656.5 70.79 L658.0 70.78 L659.5 70.77 L661.0 70.76 L662.5 70.75 L664.0 70.74 L665.5 70.73 L667.0 70.72 L668.5 70.71 L670.0 70.70 L671.5 70.69 L673.0 70.67 L674.5 70.66 L676.0 70.64 L677.5 70.63 L679.0 70.61 L680.5 70.59 L682.0 70.56 L683.5 70.50 L685.0 70.43 L686.5 70.33 L688.0 70.23 L689.5 70.10 L691.0 69.97 L692.5 69.83 L694.0 69.67 L695.5 69.51 L697.0 69.34 L698.5 69.17 L700.0 69.00"/>
<path class="c" stroke="#2f9e57" d="M403.0 33.50 L404.5 33.84 L406.0 34.18 L407.5 34.51 L409.0 34.84 L410.5 35.16 L412.0 35.47 L413.5 35.78 L415.0 36.08 L416.5 36.38 L418.0 36.68 L419.5 36.97 L421.0 37.26 L422.5 37.55 L424.0 37.83 L425.5 38.11 L427.0 38.39 L428.5 38.66 L430.0 38.94 L431.5 39.21 L433.0 39.48 L434.5 39.74 L436.0 40.00 L437.5 40.25 L439.0 40.49 L440.5 40.73 L442.0 40.95 L443.5 41.16 L445.0 41.36 L446.5 41.55 L448.0 41.72 L449.5 41.88 L451.0 42.02 L452.5 42.14 L454.0 42.25 L455.5 42.34 L457.0 42.43 L458.5 42.51 L460.0 42.58 L461.5 42.64 L463.0 42.71 L464.5 42.76 L466.0 42.82 L467.5 42.88 L469.0 42.93 L470.5 42.99 L472.0 43.06 L473.5 43.13 L475.0 43.21 L476.5 43.30 L478.0 43.40 L479.5 43.51 L481.0 43.61 L482.5 43.72 L484.0 43.83 L485.5 43.94 L487.0 44.06 L488.5 44.17 L490.0 44.28 L491.5 44.40 L493.0 44.51 L494.5 44.62 L496.0 44.73 L497.5 44.84 L499.0 44.95 L500.5 45.06 L502.0 45.16 L503.5 45.27 L505.0 45.37 L506.5 45.47 L508.0 45.57 L509.5 45.66 L511.0 45.76 L512.5 45.85 L514.0 45.94 L515.5 46.03 L517.0 46.12 L518.5 46.21 L520.0 46.29 L521.5 46.38 L523.0 46.46 L524.5 46.54 L526.0 46.61 L527.5 46.68 L529.0 46.75 L530.5 46.82 L532.0 46.88 L533.5 46.94 L535.0 46.99 L536.5 47.03 L538.0 47.06 L539.5 47.09 L541.0 47.12 L542.5 47.14 L544.0 47.16 L545.5 47.17 L547.0 47.18 L548.5 47.19 L550.0 47.19 L551.5 47.20 L553.0 47.20 L554.5 47.20 L556.0 47.20 L557.5 47.18 L559.0 47.16 L560.5 47.13 L562.0 47.09 L563.5 47.05 L565.0 47.01 L566.5 46.96 L568.0 46.92 L569.5 46.88 L571.0 46.85 L572.5 46.82 L574.0 46.80 L575.5 46.80 L577.0 46.81 L578.5 46.82 L580.0 46.85 L581.5 46.89 L583.0 46.93 L584.5 46.98 L586.0 47.03 L587.5 47.09 L589.0 47.15 L590.5 47.22 L592.0 47.29 L593.5 47.35 L595.0 47.42 L596.5 47.49 L598.0 47.55 L599.5 47.62 L601.0 47.68 L602.5 47.73 L604.0 47.78 L605.5 47.82 L607.0 47.86 L608.5 47.88 L610.0 47.90 L611.5 47.91 L613.0 47.92 L614.5 47.93 L616.0 47.93 L617.5 47.94 L619.0 47.94 L620.5 47.93 L622.0 47.93 L623.5 47.92 L625.0 47.92 L626.5 47.91 L628.0 47.90 L629.5 47.88 L631.0 47.87 L632.5 47.85 L634.0 47.83 L635.5 47.81 L637.0 47.78 L638.5 47.76 L640.0 47.73 L641.5 47.70 L643.0 47.67 L644.5 47.64 L646.0 47.61 L647.5 47.57 L649.0 47.54 L650.5 47.50 L652.0 47.46 L653.5 47.41 L655.0 47.37 L656.5 47.32 L658.0 47.27 L659.5 47.21 L661.0 47.14 L662.5 47.07 L664.0 47.00 L665.5 46.93 L667.0 46.84 L668.5 46.76 L670.0 46.67 L671.5 46.58 L673.0 46.48 L674.5 46.39 L676.0 46.28 L677.5 46.18 L679.0 46.07 L680.5 45.96 L682.0 45.84 L683.5 45.70 L685.0 45.54 L686.5 45.36 L688.0 45.17 L689.5 44.97 L691.0 44.75 L692.5 44.52 L694.0 44.26 L695.5 43.96 L697.0 43.63 L698.5 43.28 L700.0 42.90"/>
</g>
<rect class="ax" x="53.0" y="8.8" width="298.0" height="239.79999999999998"/>
<rect class="ax" x="403.0" y="8.8" width="297.0" height="239.79999999999998"/>
<path class="ax" d="M351.00 248.6 V253.5 M311.27 248.6 V253.5 M271.53 248.6 V253.5 M231.80 248.6 V253.5 M192.07 248.6 V253.5 M152.33 248.6 V253.5 M112.60 248.6 V253.5 M72.87 248.6 V253.5 M403.00 248.6 V253.5 M452.50 248.6 V253.5 M502.00 248.6 V253.5 M551.50 248.6 V253.5 M601.00 248.6 V253.5 M650.50 248.6 V253.5 M700.00 248.6 V253.5 "/>
<text class="tk" transform="translate(351.0 268.5) scale(1.065 1)">3000</text>
<text class="tk" transform="translate(311.3 268.5) scale(1.065 1)">3100</text>
<text class="tk" transform="translate(271.5 268.5) scale(1.065 1)">3200</text>
<text class="tk" transform="translate(231.8 268.5) scale(1.065 1)">3300</text>
<text class="tk" transform="translate(192.1 268.5) scale(1.065 1)">3400</text>
<text class="tk" transform="translate(152.3 268.5) scale(1.065 1)">3500</text>
<text class="tk" transform="translate(112.6 268.5) scale(1.065 1)">3600</text>
<text class="tk" transform="translate(72.9 268.5) scale(1.065 1)">3700</text>
<text class="tk" transform="translate(403.0 268.5) scale(1.065 1)">1680</text>
<text class="tk" transform="translate(452.5 268.5) scale(1.065 1)">1670</text>
<text class="tk" transform="translate(502.0 268.5) scale(1.065 1)">1660</text>
<text class="tk" transform="translate(551.5 268.5) scale(1.065 1)">1650</text>
<text class="tk" transform="translate(601.0 268.5) scale(1.065 1)">1640</text>
<text class="tk" transform="translate(650.5 268.5) scale(1.065 1)">1630</text>
<text class="tk" transform="translate(700.0 268.5) scale(1.065 1)">1620</text>
<text class="yl" transform="translate(46.3 66.5) scale(0.885 1)">20 ºC</text>
<text class="yl" transform="translate(46.3 82.9) scale(0.885 1)">100 ºC</text>
<text class="yl" transform="translate(46.3 101.3) scale(0.885 1)">120 ºC</text>
<text class="yl" transform="translate(46.3 116.0) scale(0.885 1)">140 ºC</text>
<text class="yl" transform="translate(46.3 133) scale(0.885 1)">150 ºC</text>
<text class="yl" transform="translate(46.3 154) scale(0.885 1)">160 ºC</text>
<text class="yl" transform="translate(46.3 173.6) scale(0.885 1)">170 ºC</text>
<text class="yl" transform="translate(46.3 201.3) scale(0.885 1)">180 ºC</text>
<text class="yl" transform="translate(46.3 223.7) scale(0.885 1)">190 ºC</text>
<text class="yl" transform="translate(46.3 243) scale(0.885 1)">200 ºC</text>
<text class="ti" x="191.5" y="28.9">N-H stretching</text>
<text class="ti" x="561.7" y="28.9">C=C stretching</text>
<text class="xl" transform="translate(201.5 296.5) scale(1.047 1)">Wavelength (cm<tspan font-size="9.5px" dy="-7.5">-1</tspan><tspan dy="7.5">)</tspan></text>
<text class="xl" transform="translate(551.5 296.5) scale(1.047 1)">Wavelength (cm<tspan font-size="9.5px" dy="-7.5">-1</tspan><tspan dy="7.5">)</tspan></text>
</svg></body></html>
